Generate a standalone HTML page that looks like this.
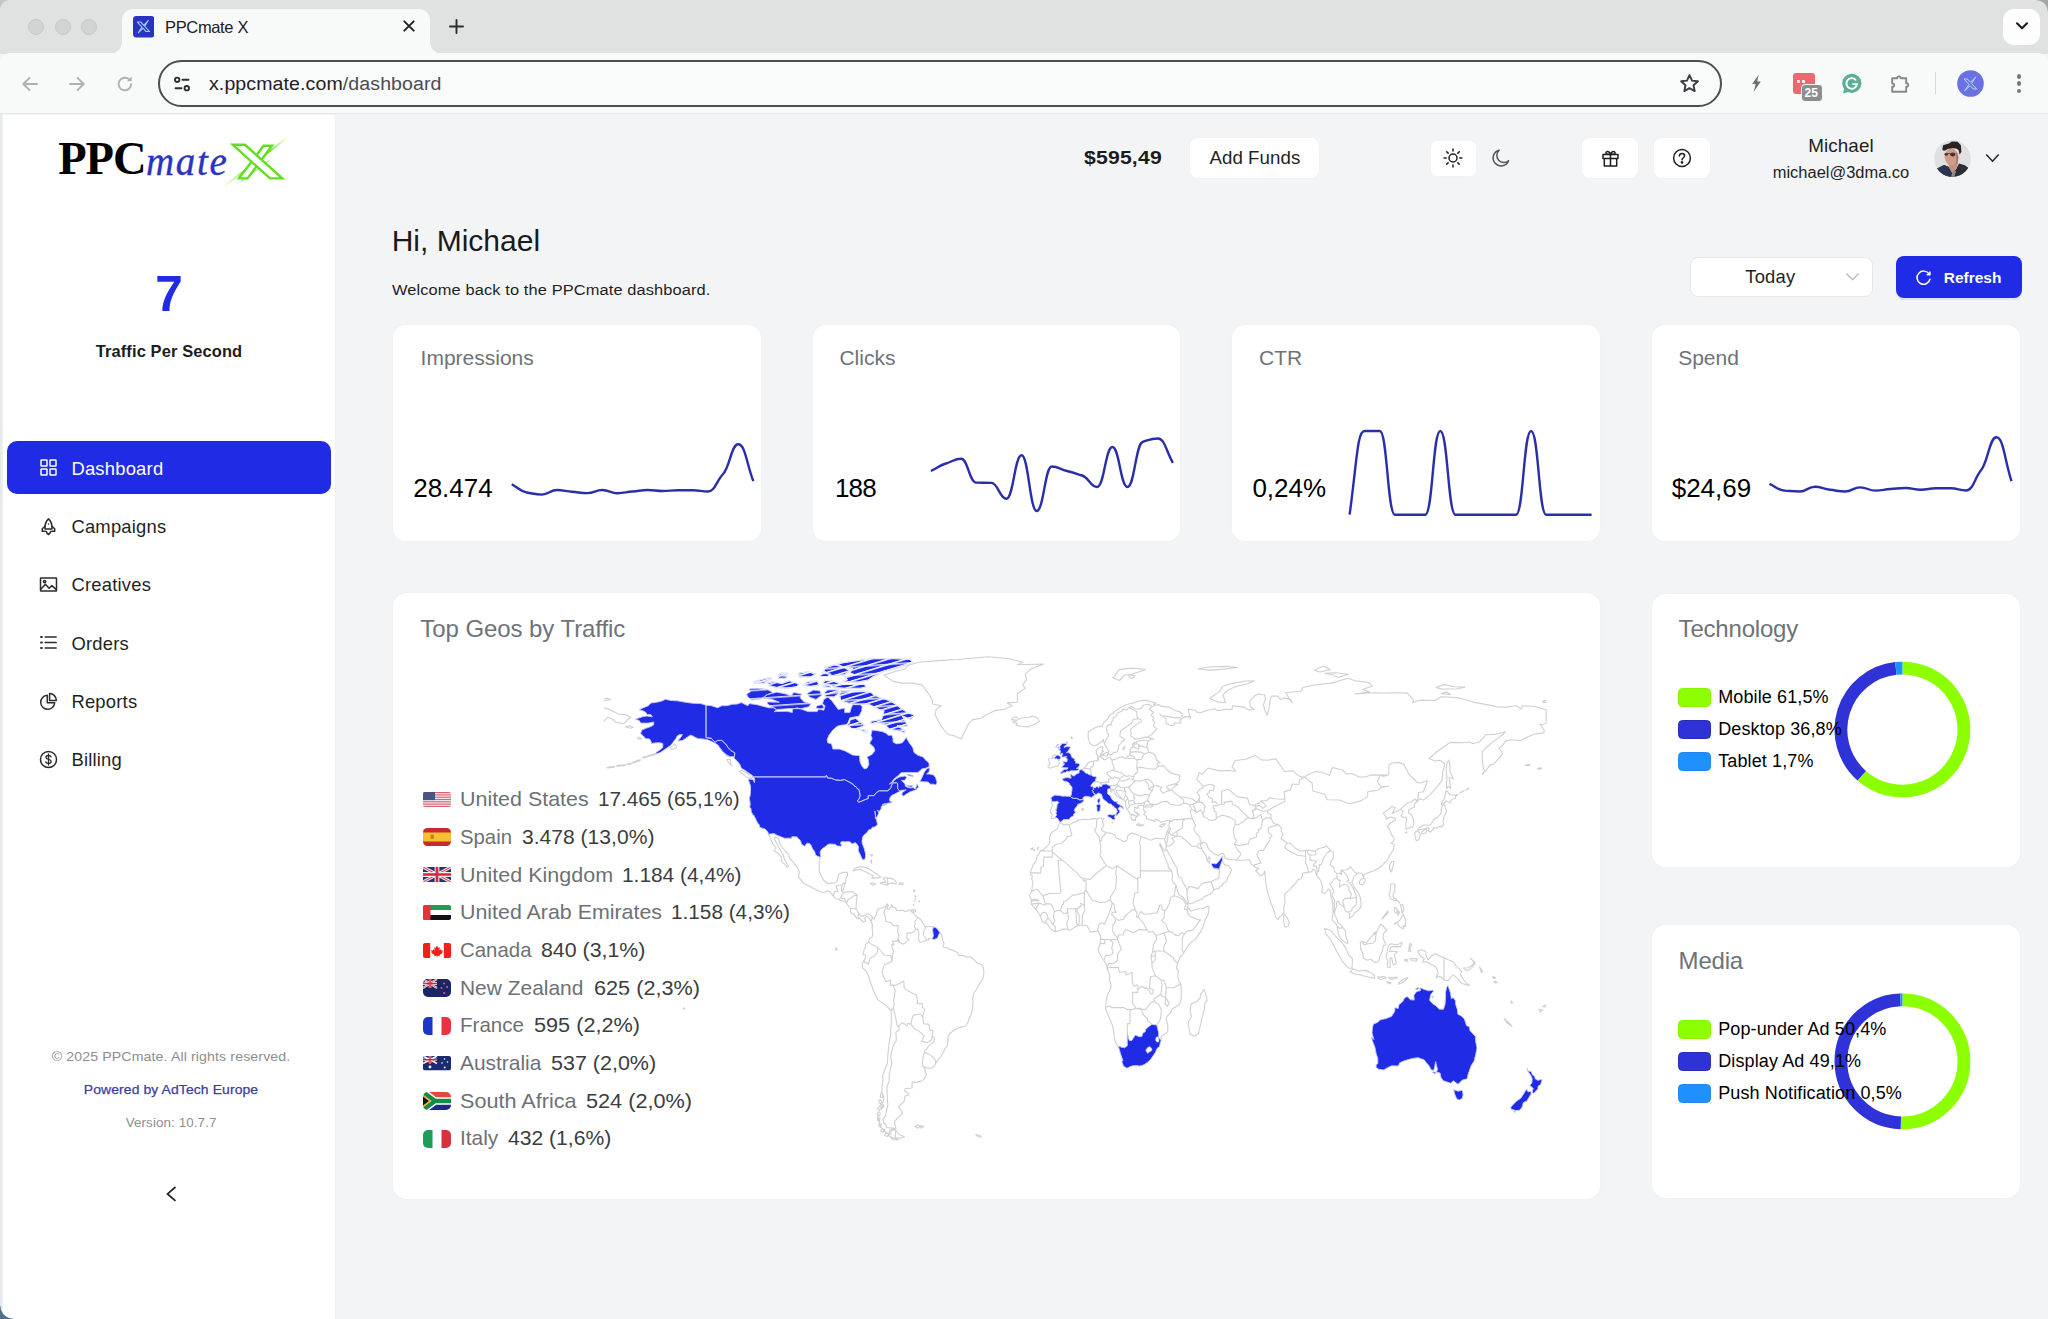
<!DOCTYPE html>
<html lang="en"><head><meta charset="utf-8"><title>PPCmate X</title>
<style>
*{box-sizing:border-box;margin:0;padding:0}
html,body{width:2048px;height:1319px;overflow:hidden;background:#f3f4f6;font-family:"Liberation Sans",sans-serif;color:#1f1f1f}
#win{position:relative;width:2048px;height:1319px;overflow:hidden;background:#f3f4f6}
.abs{position:absolute}
.t{position:absolute;white-space:pre;line-height:1}
/* chrome */
#tabstrip{position:absolute;left:0;top:0;width:2048px;height:54px;background:#e0e2e1}
#toolbar{position:absolute;left:0;top:53px;width:2048px;height:61px;background:#f8f9f9;border-bottom:1px solid #e6e7e8;border-radius:10px 10px 0 0}
#tab{position:absolute;left:122px;top:9px;width:308px;height:45px;background:#f8f9f9;border-radius:11px 11px 0 0}
#tab:before,#tab:after{content:"";position:absolute;bottom:0;width:12px;height:12px;background:radial-gradient(circle at 0 0,transparent 11.5px,#f8f9f9 12px)}
#tab:before{left:-12px}
#tab:after{right:-12px;background:radial-gradient(circle at 100% 0,transparent 11.5px,#f8f9f9 12px)}
.light{position:absolute;top:19px;width:16px;height:16px;border-radius:50%;background:#d2d3d3;border:1px solid #c6c7c7}
#urlbar{position:absolute;left:158px;top:60px;width:1564px;height:47px;border:2px solid #4b4e52;border-radius:24px;background:#f9fafa}
/* page */
#page{position:absolute;left:0;top:0;width:2048px;height:1319px}
#sidebar{position:absolute;left:3px;top:114.5px;width:332px;height:1205px;background:#fff;box-shadow:.5px 0 1.5px rgba(0,0,0,.035)}
#ledge{position:absolute;left:0;top:114px;width:3px;height:1205px;background:linear-gradient(90deg,#e4e5e6,#f1f2f3)}
.card{position:absolute;background:#fff;border-radius:13px;box-shadow:0 0 3px rgba(0,0,0,.03)}
.btn{position:absolute;background:#fff;border-radius:8px;box-shadow:0 0 2px rgba(0,0,0,.03)}
.ct{color:#6e7377}
.nav{font-size:18.4px;letter-spacing:.22px;color:#1f1f1f}
.gn{font-size:20.3px;color:#6d7174}
.gv{font-size:20.3px;color:#3b3d40}
.lg{font-size:18px;color:#000}

</style></head>
<body>
<div id="win">
<div id="tabstrip">
  <div class="light" style="left:28px"></div><div class="light" style="left:54.5px"></div><div class="light" style="left:81px"></div>
  <div id="tab"></div>
  <!-- favicon -->
  <svg class="abs" style="left:132.5px;top:16px" width="21.5" height="21.5" viewBox="0 0 22 22"><rect width="22" height="22" rx="3.5" fill="#2a32c4"/><path d="M4.5 6.2h3.6l2.9 3.4 4.6-5-3.6 5.9 4.9 5.4h-3.6l-3-3.5-4.9 4.9 3.8-6z" fill="none" stroke="#9fd0ff" stroke-width="1.1" stroke-linejoin="round"/></svg>
  <div class="t" style="left:165px;top:18.5px;font-size:16.5px;letter-spacing:-.35px;color:#1f2023">PPCmate X</div>
  <svg class="abs" style="left:403px;top:20px" width="12" height="12" viewBox="0 0 12 12"><path d="M1.3 1.3l9.4 9.4M10.7 1.3l-9.4 9.4" stroke="#1f2023" stroke-width="1.9" stroke-linecap="round"/></svg>
  <svg class="abs" style="left:449px;top:19px" width="15" height="15" viewBox="0 0 15 15"><path d="M7.5 1v13M1 7.5h13" stroke="#2a2b2e" stroke-width="1.9" stroke-linecap="round"/></svg>
  <div class="abs" style="left:2003px;top:8.5px;width:37px;height:36px;border-radius:11px;background:#fdfdfd"></div>
  <svg class="abs" style="left:2014.5px;top:21px" width="14" height="10" viewBox="0 0 14 10"><path d="M2 2.3l5 5 5-5" fill="none" stroke="#1c1c1e" stroke-width="2.1" stroke-linecap="round" stroke-linejoin="round"/></svg>
</div>
<div id="toolbar"></div>
<!-- nav arrows -->
<svg class="abs" style="left:20px;top:74px" width="20" height="20" viewBox="0 0 20 20"><path d="M17 10H3.5M9.5 3.8L3.3 10l6.2 6.2" fill="none" stroke="#aeb0b3" stroke-width="1.9" stroke-linecap="round" stroke-linejoin="round"/></svg>
<svg class="abs" style="left:66.5px;top:74px" width="20" height="20" viewBox="0 0 20 20"><path d="M3 10h13.5M10.5 3.8l6.2 6.2-6.2 6.2" fill="none" stroke="#aeb0b3" stroke-width="1.9" stroke-linecap="round" stroke-linejoin="round"/></svg>
<svg class="abs" style="left:115px;top:74px" width="20" height="20" viewBox="0 0 20 20"><path d="M16.2 10a6.3 6.3 0 1 1-2-4.6" fill="none" stroke="#aeb0b3" stroke-width="1.9" stroke-linecap="round"/><path d="M16.6 2.6v4.6h-4.6z" fill="#aeb0b3"/></svg>
<div id="urlbar"></div>
<!-- tune icon -->
<svg class="abs" style="left:172px;top:74px" width="20" height="20" viewBox="0 0 20 20" fill="none" stroke="#2b2d30" stroke-width="1.9" stroke-linecap="round"><circle cx="5.2" cy="5.8" r="2.2"/><path d="M10.5 5.8h6"/><circle cx="14.8" cy="14.2" r="2.2"/><path d="M3.5 14.2h6"/></svg>
<div class="t" style="left:208.5px;top:74.6px;font-size:18.8px;letter-spacing:.1px;color:#1f2023;transform:scaleX(1.04);transform-origin:0 50%">x.ppcmate.com<span style="color:#4a4c50">/dashboard</span></div>
<!-- star -->
<svg class="abs" style="left:1679px;top:73px" width="21" height="21" viewBox="0 0 21 21"><path d="M10.5 2.2l2.5 5.4 5.9.7-4.4 4 1.2 5.8-5.2-3-5.2 3 1.2-5.8-4.4-4 5.9-.7z" fill="none" stroke="#3c3e42" stroke-width="1.9" stroke-linejoin="round"/></svg>
<!-- lightning -->
<svg class="abs" style="left:1750px;top:74px" width="13" height="19" viewBox="0 0 13 19"><path d="M8.6 0.8L2.2 9.9h3.5L3.6 18l7.2-10.6H7.2z" fill="#6c6e71"/></svg>
<!-- calendar ext -->
<div class="abs" style="left:1793px;top:73px;width:21.5px;height:21px;border-radius:3px;background:#e86a70"></div>
<div class="abs" style="left:1797px;top:80px;width:3px;height:3px;background:#fbe3e4"></div><div class="abs" style="left:1802px;top:80px;width:3px;height:3px;background:#fbe3e4"></div>
<div class="abs" style="left:1801px;top:84px;width:21.5px;height:18px;border-radius:4px;background:#8c8d8e;border:1px solid #f8f9f9"></div>
<div class="t" style="left:1804.4px;top:87.2px;font-size:12px;font-weight:700;color:#fff;letter-spacing:.2px">25</div>
<!-- grammarly -->
<svg class="abs" style="left:1841px;top:73px" width="21" height="21" viewBox="0 0 21 21"><circle cx="10.8" cy="10.3" r="9.6" fill="#5cae94"/><path d="M2 20.5l1.5-6 4 4.5z" fill="#5cae94"/><path d="M14.6 6.8a5.3 5.3 0 1 0 1.4 4.3h-4" fill="none" stroke="#fff" stroke-width="1.9" stroke-linecap="round"/></svg>
<!-- puzzle -->
<svg class="abs" style="left:1889px;top:72px" width="23" height="23" viewBox="0 0 23 23"><path d="M3.2 6.3h5.2c-.6-2.6 3.8-2.6 3.2 0h5.6v5c2.8-.7 2.8 4 0 3.3v5.2H3.200v-5c2.600.6 2.600-3.800 0-3.200z" fill="none" stroke="#85878a" stroke-width="1.9" stroke-linejoin="round"/></svg>
<div class="abs" style="left:1934.5px;top:72px;width:1.5px;height:22px;background:#d5d6d8"></div>
<!-- profile -->
<svg class="abs" style="left:1957px;top:70px" width="27" height="27" viewBox="0 0 27 27"><circle cx="13.5" cy="13.5" r="13.3" fill="#6a72e2"/><path d="M7 9h3.400l3 3.300 5.400-5.500-4.200 6.600 5 5.600h-3.400l-3-3.400-5.600 5.300 4.400-6.500z" fill="none" stroke="#b9d8ff" stroke-width="1" stroke-linejoin="round"/></svg>
<div class="abs" style="left:2016.5px;top:74.2px;width:4.4px;height:4.4px;border-radius:50%;background:#77797c"></div>
<div class="abs" style="left:2016.5px;top:81.4px;width:4.4px;height:4.4px;border-radius:50%;background:#77797c"></div>
<div class="abs" style="left:2016.5px;top:88.7px;width:4.4px;height:4.4px;border-radius:50%;background:#77797c"></div>

<div class="abs" style="right:0;top:0;width:11px;height:11px;background:radial-gradient(circle at 0 100%,transparent 10px,#a3a4a4 11px)"></div>
<div class="abs" style="left:0;top:0;width:10px;height:10px;background:radial-gradient(circle at 100% 100%,transparent 9.5px,#c4c5c5 10.5px)"></div>
<div id="ledge"></div>

<div id="page">
<div id="sidebar"></div>
<div class="t" style="left:58.3px;top:135.66px;font-size:46.5px;font-family:'Liberation Serif',serif;font-weight:700;color:#000;letter-spacing:-1.1px">PPC</div>
<div class="t" style="left:146.0px;top:141.74px;font-size:39px;font-family:'Liberation Serif',serif;font-style:italic;color:#2a33c2;letter-spacing:1.7px;-webkit-text-stroke:.35px #2a33c2">mate</div>
<svg class="abs" style="left:222px;top:134px" width="72" height="56" viewBox="0 0 72 56">
<defs><linearGradient id="gx" x1="0" y1="1" x2="1" y2="0"><stop offset="0" stop-color="#d9f58c" stop-opacity=".2"/><stop offset=".35" stop-color="#5fe01a"/><stop offset=".7" stop-color="#5fe01a"/><stop offset="1" stop-color="#d9f58c" stop-opacity=".2"/></linearGradient></defs>
<path d="M2.600 52 L66 3" stroke="url(#gx)" stroke-width="2" fill="none"/>
<path d="M19 47.500 L47 26.500" stroke="#8ae84a" stroke-width="1.500" fill="none" opacity=".75"/>
<path d="M41.500 11.800h8.500L25.500 44.400h-8.500z" fill="#fff" stroke="#5fe01f" stroke-width="2.400" stroke-linejoin="miter"/>
<path d="M10.800 10.800h12.200L60.200 44.400H48z" fill="#fff" stroke="#5fe01f" stroke-width="2.400" stroke-linejoin="miter"/>
</svg>
<div class="t " style="left:-131.0px;width:600px;text-align:center;top:269.10px;font-size:49.5px;font-weight:700;color:#1f2be5">7</div>
<div class="t " style="left:-130.8px;width:600px;text-align:center;top:344.41px;font-size:15.7px;font-weight:700;letter-spacing:.1px;color:#1c1c1c;transform:scaleX(1.0500);transform-origin:50% 50%">Traffic Per Second</div>
<div class="abs" style="left:7px;top:441px;width:324px;height:53px;border-radius:10px;background:#1f2be5"></div>
<div class="t nav" style="left:71.4px;top:459.62px;font-size:18.4px;color:#fff">Dashboard</div>
<div class="t nav" style="left:71.4px;top:517.92px;font-size:18.4px;color:#1f1f1f">Campaigns</div>
<div class="t nav" style="left:71.4px;top:576.22px;font-size:18.4px;color:#1f1f1f">Creatives</div>
<div class="t nav" style="left:71.4px;top:634.52px;font-size:18.4px;color:#1f1f1f">Orders</div>
<div class="t nav" style="left:71.4px;top:692.82px;font-size:18.4px;color:#1f1f1f">Reports</div>
<div class="t nav" style="left:71.4px;top:751.12px;font-size:18.4px;color:#1f1f1f">Billing</div>
<svg class="abs" style="left:38.9px;top:458.4px" width="19" height="19" viewBox="0 0 19 19" fill="none" stroke="#fff" stroke-width="1.5" stroke-linejoin="round" stroke-linecap="round"><rect x="2" y="2" width="6" height="6" rx=".6"/><rect x="11" y="2" width="6" height="6" rx=".6"/><rect x="2" y="11" width="6" height="6" rx=".6"/><rect x="11" y="11" width="6" height="6" rx=".6"/></svg>
<svg class="abs" style="left:38.9px;top:516.7px" width="19" height="19" viewBox="0 0 19 19" fill="none" stroke="#2b2b2b" stroke-width="1.5" stroke-linejoin="round" stroke-linecap="round"><path d="M9.500 1.800c2.700 2.200 3.700 5.400 3.500 10.200h-7c-.2-4.800.8-8 3.500-10.200z"/><path d="M6 9.200l-2.700 2.600v2.400h2.900M13 9.200l2.700 2.600v2.400h-2.900"/><path d="M7.300 14.500c.4 1.600 1.200 2.400 2.200 3 1-.6 1.800-1.400 2.200-3"/><circle cx="9.500" cy="7" r=".8" fill="#2b2b2b" stroke="none"/></svg>
<svg class="abs" style="left:38.9px;top:575.0px" width="19" height="19" viewBox="0 0 19 19" fill="none" stroke="#2b2b2b" stroke-width="1.5" stroke-linejoin="round" stroke-linecap="round"><rect x="1.500" y="3" width="16" height="13" rx=".5"/><path d="M1.800 14.300l4.600-5 3.700 4 2.800-2.700 4.400 4"/><circle cx="5.600" cy="6.600" r="1.100"/></svg>
<svg class="abs" style="left:38.9px;top:633.3px" width="19" height="19" viewBox="0 0 19 19" fill="none" stroke="#2b2b2b" stroke-width="1.5" stroke-linejoin="round" stroke-linecap="round"><path d="M6.200 4h11M6.200 9.500h11M6.200 15h11"/><path d="M2 4h.9M2 9.500h.9M2 15h.9" stroke-width="1.900"/></svg>
<svg class="abs" style="left:38.9px;top:691.6px" width="19" height="19" viewBox="0 0 19 19" fill="none" stroke="#2b2b2b" stroke-width="1.5" stroke-linejoin="round" stroke-linecap="round"><path d="M8.300 3.300a7 7 0 1 0 7.400 7.400h-7.400z"/><path d="M10.600 1.600v6.800h6.800a6.900 6.900 0 0 0-6.800-6.800z"/></svg>
<svg class="abs" style="left:38.9px;top:749.9px" width="19" height="19" viewBox="0 0 19 19" fill="none" stroke="#2b2b2b" stroke-width="1.5" stroke-linejoin="round" stroke-linecap="round"><circle cx="9.500" cy="9.500" r="8"/><path d="M12 6.900c-.4-1-1.300-1.400-2.500-1.400-1.500 0-2.500.7-2.500 1.900 0 2.800 5.200 1.200 5.200 4.100 0 1.200-1.100 2-2.700 2-1.400 0-2.400-.6-2.800-1.700M9.500 4v11" stroke-width="1.300"/></svg>
<div class="t " style="left:-129.2px;width:600px;text-align:center;top:1050.36px;font-size:13.4px;color:#8e8e8e;letter-spacing:.1px;transform:scaleX(1.0580);transform-origin:50% 50%">© 2025 PPCmate. All rights reserved.</div>
<div class="t " style="left:-128.8px;width:600px;text-align:center;top:1082.96px;font-size:13.4px;color:#3a3e9e;letter-spacing:.1px;-webkit-text-stroke:.25px #3a3e9e;transform:scaleX(1.0400);transform-origin:50% 50%">Powered by AdTech Europe</div>
<div class="t " style="left:-128.9px;width:600px;text-align:center;top:1116.06px;font-size:13.4px;color:#8e8e8e;letter-spacing:.1px">Version: 10.7.7</div>
<svg class="abs" style="left:164px;top:1185px" width="14" height="18" viewBox="0 0 14 18"><path d="M11.500 2L3.500 8.900l8 6.900" fill="none" stroke="#222" stroke-width="1.700" stroke-linecap="butt"/></svg>
<div class="abs" style="left:0;top:1306px;width:13px;height:13px;background:radial-gradient(circle at 100% 0,transparent 12px,#4f7087 13px)"></div>
<div class="t" style="left:1083.9px;top:148.87px;font-size:18.7px;font-weight:700;letter-spacing:.15px;color:#1c1c1c;transform:scaleX(1.1350);transform-origin:0 50%">$595,49</div>
<div class="btn" style="left:1190px;top:138px;width:129px;height:40px"></div>
<div class="t" style="left:1209.4px;top:148.87px;font-size:18.7px;letter-spacing:.07px;color:#1f1f1f">Add Funds</div>
<div class="btn" style="left:1430.500px;top:140.500px;width:45.500px;height:35px;border-radius:6px"></div>
<svg class="abs" style="left:1443px;top:147.800px" width="20" height="20" viewBox="0 0 20 20" fill="none" stroke="#1f1f1f" stroke-width="1.500" stroke-linecap="round"><circle cx="10" cy="10" r="4"/><path d="M16.90 10.00L18.90 10.00"/><path d="M14.88 14.88L16.29 16.29"/><path d="M10.00 16.90L10.00 18.90"/><path d="M5.12 14.88L3.71 16.29"/><path d="M3.10 10.00L1.10 10.00"/><path d="M5.12 5.12L3.71 3.71"/><path d="M10.00 3.10L10.00 1.10"/><path d="M14.88 5.12L16.29 3.71"/></svg>
<svg class="abs" style="left:1491px;top:148px" width="20" height="20" viewBox="0 0 20 20"><path d="M8.200 2.200a8 8 0 1 0 9.400 10.600a6.800 6.800 0 0 1-9.400-10.600z" fill="none" stroke="#555" stroke-width="1.500" stroke-linejoin="round"/></svg>
<div class="btn" style="left:1582px;top:138px;width:56px;height:40px"></div>
<svg class="abs" style="left:1600.500px;top:148.500px" width="19" height="19" viewBox="0 0 19 19" fill="none" stroke="#1f1f1f" stroke-width="1.500" stroke-linejoin="round"><rect x="2" y="5.600" width="15" height="4"/><path d="M3.300 9.600v7.400h12.400V9.600M9.500 5.600v11.400"/><path d="M9.500 5.400c-1-3.400-4.600-3.600-4.600-1.400 0 1.400 2.400 1.400 4.600 1.400zM9.500 5.400c1-3.400 4.600-3.600 4.600-1.400 0 1.400-2.400 1.400-4.600 1.400z"/></svg>
<div class="btn" style="left:1653.500px;top:138px;width:56.500px;height:40px"></div>
<svg class="abs" style="left:1671.500px;top:148.100px" width="20" height="20" viewBox="0 0 20 20" fill="none" stroke="#1f1f1f" stroke-width="1.500" stroke-linecap="round"><circle cx="10" cy="10" r="8.400"/><path d="M7.400 7.900c0-1.500 1.200-2.500 2.600-2.500s2.600 1 2.600 2.400c0 1.900-2.600 2-2.600 3.900"/><circle cx="10" cy="14.400" r=".6" fill="#1f1f1f"/></svg>
<div class="t " style="left:1540.8px;width:600px;text-align:center;top:137.93px;font-size:17.8px;letter-spacing:.1px;color:#1f1f1f;transform:scaleX(1.0600);transform-origin:50% 50%">Michael</div>
<div class="t " style="left:1540.8px;width:600px;text-align:center;top:164.96px;font-size:16px;letter-spacing:.0px;color:#1f1f1f;transform:scaleX(1.0280);transform-origin:50% 50%">michael@3dma.co</div>
<svg class="abs" style="left:1933.500px;top:139.600px" width="37" height="37" viewBox="0 0 37 37"><defs><clipPath id="av"><circle cx="18.500" cy="18.500" r="18.300"/></clipPath></defs>
<g clip-path="url(#av)"><rect width="37" height="37" fill="#dfe0df"/>
<path d="M3.200 28.600L10.100 24.900 14.900 27.100 18.100 33 22.100 28.900 25 23.500 30.900 25.300 35.500 28.800 34 37H5z" fill="#2b2d33"/>
<path d="M3.200 28.600L10.100 24.900 14.900 27.100 18.100 33 17 37H5z" fill="#2b3352"/>
<path d="M14.500 22.500h9.500l-1.500 6-4.400 4.600-3.300-6z" fill="#c98f7f"/>
<path d="M18.100 33l2.500-3 1.500 1.500-2 5.500h-3z" fill="#8d8a90"/>
<ellipse cx="17.600" cy="17" rx="6.900" ry="8.600" fill="#cf9b8c" transform="rotate(-8 17.600 17)"/>
<path d="M22 12c2 2 3 6 1.500 11l-2 3c1-4 1-9 .5-14z" fill="#a8706a"/>
<path d="M8.300 9.600L9.100 5.300 14.900 3.500 17.800 1.500 23.600 1.700 26.900 5.300 27.400 11.900 25.600 14.500 24.500 10 22 8.400 18.500 8.200 13.400 8.900 11.600 10.600 9.100 10.600z" fill="#2a2320"/>
<ellipse cx="18.700" cy="14.500" rx="2.500" ry="1.900" fill="#4a2a14"/><ellipse cx="12.300" cy="14.200" rx="1.700" ry="1.500" fill="#4a3a38"/>
<path d="M10.800 13.500h10.500" stroke="#5a4038" stroke-width=".8"/>
</g></svg>
<svg class="abs" style="left:1985px;top:151.500px" width="15" height="12" viewBox="0 0 15 12"><path d="M1.300 2.600l6.200 6.600 6.200-6.600" fill="none" stroke="#222" stroke-width="1.500"/></svg>
<div class="t" style="left:391.7px;top:226.20px;font-size:30px;color:#1a1a1a;letter-spacing:0">Hi, Michael</div>
<div class="t" style="left:392.4px;top:281.88px;font-size:15.5px;letter-spacing:.1px;color:#1f1f1f;transform:scaleX(1.0590);transform-origin:0 50%">Welcome back to the PPCmate dashboard.</div>
<div class="abs" style="left:1690px;top:257px;width:183px;height:40px;border-radius:8px;background:#fff;border:1px solid #e6e7e9"></div>
<div class="t" style="left:1745.3px;top:268.32px;font-size:18.4px;letter-spacing:.18px;color:#1f1f1f">Today</div>
<svg class="abs" style="left:1845px;top:271px" width="15" height="12" viewBox="0 0 15 12"><path d="M1.300 2.400l6.200 6.400 6.200-6.400" fill="none" stroke="#bdbdbd" stroke-width="1.400"/></svg>
<div class="abs" style="left:1896px;top:256px;width:126px;height:42px;border-radius:8px;background:#1f2be5;box-shadow:0 2px 0 rgba(31,43,229,.08)"></div>
<svg class="abs" style="left:1915.300px;top:269px" width="17" height="17" viewBox="0 0 17 17"><path d="M14.200 5.200A6.600 6.600 0 1 0 15 10.300" fill="none" stroke="#fff" stroke-width="1.500" stroke-linecap="round"/><path d="M14.900 2.900v2.800h-2.800" fill="none" stroke="#fff" stroke-width="1.500" stroke-linecap="round" stroke-linejoin="round"/></svg>
<div class="t" style="left:1943.7px;top:270.28px;font-size:15.5px;font-weight:700;color:#fff">Refresh</div>
<div class="card" style="left:393.0px;top:325px;width:367.500px;height:216px"></div>
<div class="t ct" style="left:420.6px;top:347.22px;font-size:21px;">Impressions</div>
<div class="t" style="left:413.2px;top:474.99px;font-size:26px;color:#000;letter-spacing:0">28.474</div>
<div class="card" style="left:812.7px;top:325px;width:367.500px;height:216px"></div>
<div class="t ct" style="left:839.4px;top:347.22px;font-size:21px;">Clicks</div>
<div class="t" style="left:834.9px;top:474.99px;font-size:26px;color:#000;letter-spacing:-.8px">188</div>
<div class="card" style="left:1232.3px;top:325px;width:367.500px;height:216px"></div>
<div class="t ct" style="left:1259.0px;top:347.22px;font-size:21px;">CTR</div>
<div class="t" style="left:1252.4px;top:474.99px;font-size:26px;color:#000;letter-spacing:0">0,24%</div>
<div class="card" style="left:1652.0px;top:325px;width:367.500px;height:216px"></div>
<div class="t ct" style="left:1678.2px;top:347.22px;font-size:21px;">Spend</div>
<div class="t" style="left:1671.7px;top:474.99px;font-size:26px;color:#000;letter-spacing:0">$24,69</div>
<svg class="abs" style="left:0;top:0" width="2048" height="1319" viewBox="0 0 2048 1319" fill="none" stroke="#2a2ea8" stroke-width="2.4" stroke-linecap="butt" stroke-linejoin="round"><path d="M511.7,484.3C518.6,487.8 519.9,491.4 526.8,492.5C533.7,493.6 535.0,494.6 541.9,494.6C548.8,494.6 550.1,490.0 557.0,490.0C563.9,490.0 565.2,491.3 572.1,491.8C579.0,492.3 580.3,493.1 587.2,493.1C594.1,493.1 595.4,490.0 602.3,490.0C609.2,490.0 610.5,493.2 617.4,493.2C624.3,493.2 625.6,492.0 632.5,491.5C639.4,491.0 640.7,490.0 647.6,490.0C654.5,490.0 655.8,491.0 662.7,491.0C669.6,491.0 670.9,490.4 677.8,490.3C684.7,490.2 686.0,490.2 692.9,490.2C699.8,490.2 701.1,491.5 708.0,491.5C714.9,491.5 716.2,481.3 723.1,474.0C730.0,466.7 731.3,444.3 738.2,444.3C745.1,444.3 746.4,462.8 753.3,481.2"/><path d="M930.8,471.0C937.8,468.2 939.0,465.4 945.9,463.5C952.9,461.6 954.1,458.8 961.1,458.8C968.0,458.8 969.2,482.4 976.2,482.6C983.1,482.8 984.4,482.7 991.3,482.9C998.3,483.1 999.5,498.7 1006.4,498.7C1013.4,498.7 1014.6,455.2 1021.6,455.2C1028.5,455.2 1029.8,511.0 1036.7,511.0C1043.7,511.0 1044.9,466.5 1051.8,466.5C1058.8,466.5 1060.0,469.5 1067.0,471.0C1073.9,472.5 1075.1,473.3 1082.1,475.5C1089.1,477.7 1090.3,487.0 1097.2,487.0C1104.2,487.0 1105.4,447.0 1112.4,447.0C1119.3,447.0 1120.5,487.0 1127.5,487.0C1134.4,487.0 1135.7,444.2 1142.6,442.0C1149.6,439.8 1150.8,438.5 1157.8,438.5C1164.7,438.5 1165.9,450.6 1172.9,462.8"/><path d="M1349.6,514.7C1357.2,458.9 1357.2,431.0 1364.7,431.0C1372.3,431.0 1372.3,431.0 1379.8,431.0C1387.4,431.0 1387.4,514.7 1395.0,514.7C1402.5,514.7 1402.5,514.7 1410.1,514.7C1417.7,514.7 1417.7,514.7 1425.2,514.7C1432.8,514.7 1432.8,431.0 1440.3,431.0C1447.9,431.0 1447.9,514.7 1455.5,514.7C1463.0,514.7 1463.0,514.7 1470.6,514.7C1478.2,514.7 1478.2,514.7 1485.7,514.7C1493.3,514.7 1493.3,514.7 1500.8,514.7C1508.4,514.7 1508.4,514.7 1516.0,514.7C1523.5,514.7 1523.5,431.0 1531.1,431.0C1538.7,431.0 1538.7,514.7 1546.2,514.7C1553.8,514.7 1553.8,514.7 1561.3,514.7C1568.9,514.7 1568.9,514.7 1576.5,514.7C1584.0,514.7 1584.0,514.7 1591.6,514.7"/><path d="M1769.5,483.9C1776.5,487.0 1777.7,490.1 1784.6,490.6C1791.6,491.1 1792.8,491.5 1799.8,491.5C1806.7,491.5 1807.9,486.8 1814.9,486.8C1821.8,486.8 1823.0,489.1 1830.0,489.8C1837.0,490.5 1838.2,491.5 1845.1,491.5C1852.1,491.5 1853.3,487.4 1860.2,487.4C1867.2,487.4 1868.4,490.6 1875.4,490.6C1882.3,490.6 1883.5,489.4 1890.5,489.0C1897.5,488.6 1898.7,488.0 1905.6,488.0C1912.6,488.0 1913.8,489.7 1920.8,489.7C1927.7,489.7 1928.9,488.2 1935.9,488.2C1942.8,488.2 1944.0,488.2 1951.0,488.3C1958.0,488.4 1959.2,490.5 1966.1,490.5C1973.1,490.5 1974.3,478.4 1981.2,470.0C1988.2,461.6 1989.4,437.2 1996.4,437.2C2003.3,437.2 2004.5,459.2 2011.5,481.2"/></svg>
<div class="card" style="left:392.500px;top:593px;width:1207.500px;height:605.500px;border-radius:14px"></div>
<div class="t ct" style="left:420.3px;top:617.18px;font-size:24px;letter-spacing:-.07px">Top Geos by Traffic</div>
<svg class="abs" style="left:423.3px;top:791.8px" width="28" height="15" viewBox="0 0 28 15"><defs><clipPath id="fcus"><rect width="28" height="15" rx="2"/></clipPath></defs><g clip-path="url(#fcus)"><rect width="28" height="15" fill="#f4eef0"/><rect y="0.00" width="28" height="1.15" fill="#d9636e"/><rect y="2.31" width="28" height="1.15" fill="#d9636e"/><rect y="4.62" width="28" height="1.15" fill="#d9636e"/><rect y="6.92" width="28" height="1.15" fill="#d9636e"/><rect y="9.23" width="28" height="1.15" fill="#d9636e"/><rect y="11.54" width="28" height="1.15" fill="#d9636e"/><rect y="13.85" width="28" height="1.15" fill="#d9636e"/><rect width="12" height="8.100" fill="#4a5483"/></g></svg>
<div class="t gn" style="left:460.0px;top:789.12px;font-size:20.3px;;transform:scaleX(1.0569);transform-origin:0 50%">United States</div>
<div class="t gv" style="left:597.5px;top:789.12px;font-size:20.3px;;transform:scaleX(1.0210);transform-origin:0 50%">17.465 (65,1%)</div>
<svg class="abs" style="left:423.3px;top:828.0px" width="28" height="18" viewBox="0 0 28 18"><defs><clipPath id="fces"><rect width="28" height="18" rx="4.5"/></clipPath></defs><g clip-path="url(#fces)"><rect width="28" height="18" fill="#c9282d"/><rect y="4.500" width="28" height="9" fill="#f6c02f"/><rect x="7.500" y="6.800" width="3.400" height="4.200" rx="1" fill="#c47a2c"/></g></svg>
<div class="t gn" style="left:460.0px;top:826.82px;font-size:20.3px;;transform:scaleX(1.0023);transform-origin:0 50%">Spain</div>
<div class="t gv" style="left:521.7px;top:826.82px;font-size:20.3px;;transform:scaleX(1.0392);transform-origin:0 50%">3.478 (13,0%)</div>
<svg class="abs" style="left:423.3px;top:867.2px" width="28" height="15" viewBox="0 0 28 15"><defs><clipPath id="fcgb"><rect width="28" height="15" rx="2"/></clipPath></defs><g clip-path="url(#fcgb)"><rect width="28" height="15" fill="#2b3170"/><path d="M0 0l28 15M28 0L0 15" stroke="#f0eef2" stroke-width="3.200"/><path d="M0 0l28 15M28 0L0 15" stroke="#d23b4c" stroke-width="1.100"/><path d="M14 0v15M0 7.500h28" stroke="#f0eef2" stroke-width="4.800"/><path d="M14 0v15M0 7.500h28" stroke="#d5283d" stroke-width="2.700"/></g></svg>
<div class="t gn" style="left:460.0px;top:864.52px;font-size:20.3px;;transform:scaleX(1.0609);transform-origin:0 50%">United Kingdom</div>
<div class="t gv" style="left:621.9px;top:864.52px;font-size:20.3px;;transform:scaleX(1.0291);transform-origin:0 50%">1.184 (4,4%)</div>
<svg class="abs" style="left:423.3px;top:904.9px" width="28" height="15" viewBox="0 0 28 15"><defs><clipPath id="fcae"><rect width="28" height="15" rx="2"/></clipPath></defs><g clip-path="url(#fcae)"><rect width="28" height="5" fill="#1f9a58"/><rect y="5" width="28" height="5" fill="#fff"/><rect y="10" width="28" height="5" fill="#111"/><rect width="7.500" height="15" fill="#e4323c"/></g></svg>
<div class="t gn" style="left:460.0px;top:902.22px;font-size:20.3px;;transform:scaleX(1.0541);transform-origin:0 50%">United Arab Emirates</div>
<div class="t gv" style="left:671.1px;top:902.22px;font-size:20.3px;;transform:scaleX(1.0231);transform-origin:0 50%">1.158 (4,3%)</div>
<svg class="abs" style="left:423.3px;top:942.6px" width="28" height="15" viewBox="0 0 28 15"><defs><clipPath id="fcca"><rect width="28" height="15" rx="2"/></clipPath></defs><g clip-path="url(#fcca)"><rect width="28" height="15" fill="#fff"/><rect width="7.200" height="15" fill="#f0211d"/><rect x="20.800" width="7.200" height="15" fill="#f0211d"/><path d="M14 2.500l1.200 2.300 1.600-.6-.5 3 1.700-1 .3 1.300 1.700-.3-.8 2 .7.600-3.400 2.200.3 1.200-2.500-.4v1.700h-.6v-1.700l-2.500.4.300-1.200-3.400-2.200.700-.6-.8-2 1.700.300.300-1.300 1.700 1-.5-3 1.600.6z" fill="#f0211d"/></g></svg>
<div class="t gn" style="left:460.0px;top:939.92px;font-size:20.3px;;transform:scaleX(1.0063);transform-origin:0 50%">Canada</div>
<div class="t gv" style="left:540.9px;top:939.92px;font-size:20.3px;;transform:scaleX(1.0522);transform-origin:0 50%">840 (3,1%)</div>
<svg class="abs" style="left:423.3px;top:978.8px" width="28" height="18" viewBox="0 0 28 18"><defs><clipPath id="fcnz"><rect width="28" height="18" rx="5"/></clipPath></defs><g clip-path="url(#fcnz)"><rect width="28" height="18" fill="#1a2568"/><g transform="scale(.5 .6)"><rect width="28" height="15" fill="#1a2568"/><path d="M0 0l28 15M28 0L0 15" stroke="#f0eef2" stroke-width="3.400"/><path d="M14 0v15M0 7.500h28" stroke="#f0eef2" stroke-width="5"/><path d="M14 0v15M0 7.500h28" stroke="#d5283d" stroke-width="2.800"/><path d="M0 0l28 15M28 0L0 15" stroke="#d5283d" stroke-width="1.100"/></g><circle cx="21" cy="4.500" r="1" fill="#e85a6a"/><circle cx="24" cy="8" r="1" fill="#e85a6a"/><circle cx="18.500" cy="9" r="1" fill="#e85a6a"/><circle cx="21.200" cy="14" r="1.100" fill="#e85a6a"/></g></svg>
<div class="t gn" style="left:460.0px;top:977.62px;font-size:20.3px;;transform:scaleX(1.0326);transform-origin:0 50%">New Zealand</div>
<div class="t gv" style="left:593.6px;top:977.62px;font-size:20.3px;;transform:scaleX(1.0683);transform-origin:0 50%">625 (2,3%)</div>
<svg class="abs" style="left:423.3px;top:1016.5px" width="28" height="18" viewBox="0 0 28 18"><defs><clipPath id="fcfr"><rect width="28" height="18" rx="5"/></clipPath></defs><g clip-path="url(#fcfr)"><rect width="28" height="18" fill="#fff"/><rect width="9.500" height="18" fill="#1a36c4"/><rect x="18.500" width="9.500" height="18" fill="#ea3342"/></g></svg>
<div class="t gn" style="left:460.0px;top:1015.32px;font-size:20.3px;;transform:scaleX(1.0124);transform-origin:0 50%">France</div>
<div class="t gv" style="left:534.0px;top:1015.32px;font-size:20.3px;;transform:scaleX(1.0693);transform-origin:0 50%">595 (2,2%)</div>
<svg class="abs" style="left:423.3px;top:1056.0px" width="28" height="14.5" viewBox="0 0 28 14.5"><defs><clipPath id="fcau"><rect width="28" height="14.5" rx="2"/></clipPath></defs><g clip-path="url(#fcau)"><rect width="28" height="14.500" fill="#1c2a72"/><g transform="scale(.5 .5)"><path d="M0 0l28 15M28 0L0 15" stroke="#f0eef2" stroke-width="3.400"/><path d="M14 0v15M0 7.500h28" stroke="#f0eef2" stroke-width="5"/><path d="M14 0v15M0 7.500h28" stroke="#d5283d" stroke-width="2.800"/></g><circle cx="7" cy="11" r="1.400" fill="#fff"/><circle cx="21.500" cy="3" r=".8" fill="#fff"/><circle cx="24.500" cy="6" r=".8" fill="#fff"/><circle cx="19" cy="7" r=".8" fill="#fff"/><circle cx="21.700" cy="11.500" r=".9" fill="#fff"/></g></svg>
<div class="t gn" style="left:460.0px;top:1053.02px;font-size:20.3px;;transform:scaleX(1.0302);transform-origin:0 50%">Australia</div>
<div class="t gv" style="left:551.0px;top:1053.02px;font-size:20.3px;;transform:scaleX(1.0593);transform-origin:0 50%">537 (2,0%)</div>
<svg class="abs" style="left:423.3px;top:1091.9px" width="28" height="18" viewBox="0 0 28 18"><defs><clipPath id="fcza"><rect width="28" height="18" rx="5"/></clipPath></defs><g clip-path="url(#fcza)"><rect width="28" height="9" fill="#e2483d"/><rect y="9" width="28" height="9" fill="#1b2a8a"/><path d="M0 0l12 9L0 18M12 9h16" fill="none" stroke="#fff" stroke-width="7.400"/><path d="M0 0l12 9L0 18M12 9h16" fill="none" stroke="#178a4a" stroke-width="4.400"/><path d="M0 2.800L8.300 9 0 15.200z" fill="#f2b52b"/><path d="M0 4.600L5.900 9 0 13.400z" fill="#111"/></g></svg>
<div class="t gn" style="left:460.0px;top:1090.72px;font-size:20.3px;;transform:scaleX(1.0662);transform-origin:0 50%">South Africa</div>
<div class="t gv" style="left:586.2px;top:1090.72px;font-size:20.3px;;transform:scaleX(1.0683);transform-origin:0 50%">524 (2,0%)</div>
<svg class="abs" style="left:423.3px;top:1129.6px" width="28" height="18" viewBox="0 0 28 18"><defs><clipPath id="fcit"><rect width="28" height="18" rx="5"/></clipPath></defs><g clip-path="url(#fcit)"><rect width="28" height="18" fill="#fff"/><rect width="9.500" height="18" fill="#1e9c59"/><rect x="18.500" width="9.500" height="18" fill="#d8303c"/></g></svg>
<div class="t gn" style="left:460.0px;top:1128.42px;font-size:20.3px;;transform:scaleX(1.0296);transform-origin:0 50%">Italy</div>
<div class="t gv" style="left:508.0px;top:1128.42px;font-size:20.3px;;transform:scaleX(1.0401);transform-origin:0 50%">432 (1,6%)</div>
<svg class="abs" style="left:0;top:0" width="2048" height="1319" viewBox="0 0 2048 1319"><path d="M641.9,757.8L643.7,756.9L646.6,756.7L644.8,757.9ZM636.1,760.9L638.0,760.0L640.8,759.9L639.0,761.1ZM632.2,762.6L634.0,761.8L636.9,761.6L635.1,762.8ZM627.0,764.4L628.8,763.5L631.7,763.3L629.8,764.5ZM621.2,765.8L623.0,764.9L625.9,764.7L624.1,765.9ZM616.5,766.1L618.3,765.2L621.2,765.1L619.4,766.3ZM610.2,767.3L612.1,766.5L614.9,766.3L613.1,767.5ZM606.8,767.8L608.7,767.0L611.5,766.8L609.7,768.0ZM1525.4,765.5L1527.2,764.6L1530.1,764.5L1528.3,765.7ZM1537.2,769.0L1539.0,768.1L1541.9,768.0L1540.0,769.2ZM961.2,739.0L954.6,735.9L948.1,734.5L944.1,730.0L940.2,724.8L937.6,719.6L935.0,714.4L936.3,709.2L941.5,705.7L932.4,704.0L932.4,700.5L929.8,695.3L925.8,690.1L921.9,684.9L912.7,683.1L902.3,683.1L893.1,681.4L887.9,677.9L884.0,675.1L897.0,671.0L904.9,669.2L907.5,665.8L918.0,662.3L938.9,660.6L957.2,659.5L988.6,656.7L1009.6,658.8L1022.7,662.3L1017.4,664.7L1043.6,664.0L1030.5,669.2L1025.3,674.4L1026.6,679.7L1022.7,684.9L1025.3,688.3L1017.4,693.5L1017.4,698.8L1017.4,702.2L1007.0,702.9L1012.2,705.7L1004.3,709.2L993.9,710.9L987.3,714.4L980.8,718.2L972.9,719.6L969.0,723.1L966.4,728.3L963.8,733.5ZM1016.1,725.1L1022.7,726.5L1027.9,726.9L1035.7,723.8L1039.4,721.3L1037.1,717.8L1033.1,716.1L1027.9,717.5L1021.4,717.8L1018.7,719.6L1016.1,716.5L1012.2,718.5L1011.4,719.6L1017.4,720.3L1012.7,722.0L1017.4,723.4ZM820.1,857.2L819.3,861.9L819.1,868.9L820.4,874.1L822.5,878.3L823.5,880.3L827.7,883.8L831.6,883.1L835.5,882.8L837.6,880.0L838.4,874.8L839.5,873.7L843.4,872.4L847.3,872.4L847.8,874.8L846.0,878.3L845.5,883.5L843.9,882.8L844.4,886.2L843.1,890.4L842.3,891.8L843.9,892.5L846.0,892.1L849.9,891.8L852.6,891.8L857.3,894.9L856.5,900.1L856.2,904.3L856.0,909.0L858.8,913.7L861.7,916.4L865.6,915.1L866.9,913.7L869.6,914.4L872.4,916.8M768.5,834.2L770.9,839.4L772.7,843.5L776.1,848.0L774.0,850.5L779.3,854.3L781.4,857.4L781.9,861.9L785.8,865.4L787.1,867.5L788.4,866.1L786.3,862.6L784.5,859.2L783.2,855.0L780.6,850.5L778.0,846.3L776.7,843.5L774.6,839.4L774.8,836.9L778.8,838.7L779.3,842.8L781.9,847.0L785.8,851.5L788.4,854.3L789.7,858.5L793.7,862.6L797.6,867.8L799.4,872.4L798.4,876.2L800.2,879.3L804.1,883.5L809.4,885.9L813.3,888.3L815.9,889.4L819.8,891.8L823.8,892.5L827.7,890.8L830.3,892.1L833.7,896.7L836.1,898.7L839.2,899.3L840.0,900.1L843.4,901.2L845.2,900.8L846.3,901.9L845.5,902.2L848.6,906.0L850.7,908.5L850.7,909.2L850.5,912.3L852.3,913.7L853.3,913.7L856.0,917.1L856.5,917.8L858.1,918.9L859.9,918.2L861.2,920.3L863.3,922.0L865.6,921.0L864.6,918.2L866.9,916.1L869.8,918.9L871.1,922.0M833.7,896.7L833.7,894.2L835.0,891.4L838.2,891.1L836.1,887.3L836.9,885.2L841.7,885.2L843.9,882.8M841.7,885.2L841.6,891.8L842.3,891.8M841.6,891.8L843.9,892.5M839.2,899.3L840.8,897.4L841.6,895.6L843.9,892.5M840.8,897.4L843.4,898.7L845.2,898.7L845.2,900.8M846.3,901.9L847.3,901.9L848.1,899.1L850.5,898.7L853.3,896.0L857.3,894.9M850.7,908.5L853.3,908.5L856.0,909.0M858.1,918.9L858.1,915.4L858.8,913.7M852.8,871.0L855.2,868.2L858.3,867.1L861.7,866.8L865.6,867.5L869.6,869.2L873.5,872.0L876.9,874.1L880.8,876.9L878.7,877.9L871.7,878.1L873.0,875.5L869.6,874.1L865.6,871.7L860.9,869.9L860.4,869.2L856.7,869.9ZM880.3,883.5L884.5,884.2L887.4,885.2L889.2,883.5L892.1,883.1L896.0,883.8L896.3,882.4L894.4,880.0L892.1,878.6L887.4,877.9L884.5,877.9L882.9,878.3L884.5,880.0L885.8,882.4L881.9,882.4L880.3,883.1ZM887.4,877.9L887.4,885.2M870.1,883.5L873.0,882.8L875.6,884.5L873.0,885.2ZM899.1,883.1L903.1,883.1L902.8,884.5L899.1,884.5ZM870.4,854.3L873.0,855.0L871.9,856.4ZM870.6,861.6L871.7,863.3L871.4,859.9ZM913.3,909.8L915.6,909.8L915.4,911.9L913.3,911.9ZM672.2,749.8L676.7,747.4L675.6,744.6L673.0,745.6L670.2,747.7ZM625.7,726.9L629.3,725.8L633.3,727.2L630.6,728.3ZM637.2,738.0L640.1,737.3L641.6,739.0L639.0,739.4ZM724.3,744.9L726.4,748.4L722.8,751.5L720.1,747.7ZM725.6,751.9L728.8,753.3L729.6,756.7L726.4,756.0L724.8,753.3ZM752.1,779.0L747.4,777.6L743.7,774.8L739.2,771.0L741.3,770.3L746.6,772.7L749.2,775.5ZM731.9,765.8L728.2,762.3L726.9,759.2L730.3,759.5L730.3,763.0ZM656.3,753.4L649.7,755.0L643.7,757.4L651.0,756.0L655.8,754.5ZM872.4,916.8L874.0,919.2L876.1,914.7L877.4,910.2L879.2,908.5L882.7,907.8L886.1,905.7L887.4,903.8L888.4,906.0L886.8,906.7L887.6,909.2L889.2,909.2L891.3,906.7L891.8,904.6L892.6,907.1L896.0,908.1L896.5,910.5L902.3,910.2L906.2,911.6L908.3,910.2L912.7,909.8L910.9,911.6L913.3,913.0L915.6,915.8L918.0,917.5L920.6,919.2L921.9,922.0L925.0,926.2L928.7,926.5L933.7,926.9L936.3,927.9L938.1,930.0L939.7,932.4L941.5,934.8L942.8,940.1L944.1,943.5L942.8,947.0L948.1,948.0L949.4,949.4L953.3,950.5L957.2,952.2L959.1,955.7L962.5,955.3L966.4,957.1L970.3,956.7L974.2,959.8L977.4,963.3L982.1,964.7L983.4,967.8L983.9,972.0L983.7,975.1L982.6,979.3L979.7,983.5L977.6,986.9L975.6,991.1L974.2,992.1L972.9,997.3L972.9,1004.3L972.4,1008.8L971.1,1015.1L969.5,1017.5L967.7,1022.7L965.1,1026.5L961.9,1026.9L958.0,1027.9L953.8,1030.3L949.6,1033.8L948.1,1036.9L947.8,1041.4L947.3,1046.3L944.9,1048.7L943.4,1052.2L941.0,1056.4L938.7,1058.8L935.3,1064.2L933.7,1066.8L931.3,1068.3L927.9,1068.2L923.7,1066.8L922.2,1065.0L925.3,1069.6L924.8,1072.0L926.6,1073.7L924.5,1078.9L920.6,1081.4L915.4,1082.4L912.2,1081.7L912.0,1088.0L904.9,1088.7L904.6,1091.1L908.0,1093.2L908.6,1094.9L904.9,1096.3L904.1,1101.5L898.4,1106.7L901.0,1110.2L902.8,1113.0L898.4,1117.1L894.4,1121.6L896.0,1128.6L889.5,1130.0L889.2,1133.8L885.3,1132.1L881.3,1127.5L878.7,1120.6L877.4,1113.7L880.0,1109.5L877.2,1108.8L882.7,1103.2L884.0,1098.0L881.9,1092.1L882.1,1085.9L883.2,1078.9L882.4,1076.2L884.7,1070.3L887.4,1063.3L887.9,1054.6L888.4,1049.4L889.2,1042.5L890.5,1035.5L890.8,1028.6L891.5,1019.9L891.0,1010.9L887.9,1007.1L884.0,1003.9L878.2,1000.1L875.3,995.3L873.0,989.0L870.4,982.4L868.3,975.5L865.9,971.0L862.5,967.8L862.2,963.0L864.9,958.8L865.9,956.4L865.6,955.0L863.0,954.6L863.8,950.5L865.4,947.0L865.4,944.2L868.5,942.1L869.6,938.3L872.2,936.9L872.7,933.5L872.2,927.9L872.4,924.4L871.1,922.0L872.4,916.8M888.4,906.0L885.3,908.5L884.0,913.0L885.5,917.8L885.5,921.3L891.5,922.7L893.4,925.8L898.4,925.5L897.6,931.4L898.9,935.2L897.3,940.8L899.9,942.8M918.0,917.5L914.8,921.7L915.4,924.1L914.3,926.5L916.1,928.9L914.1,931.7L910.4,933.1L907.0,933.1L906.7,938.3L909.1,939.4L903.8,944.2L899.9,942.8M916.1,928.9L918.0,929.3L918.2,931.7L919.0,933.8L918.2,939.0L920.1,942.1L923.2,941.8L927.1,940.2L928.7,940.1L928.7,938.3L932.1,939.0M925.3,926.5L925.0,928.9L923.2,933.1L923.7,935.2L927.1,940.2M868.5,942.1L871.4,944.2L874.8,946.1L877.9,947.3L880.6,950.5L884.0,955.0L891.0,955.7L891.8,961.6L893.4,950.8L892.1,947.7L891.5,944.9L894.2,944.7L892.2,941.1L897.3,940.9L898.6,939.7L899.9,942.8M864.9,958.8L864.3,962.3L866.7,962.6L868.3,964.4L869.8,958.8L871.4,957.4L874.5,956.0L877.2,952.2L877.9,947.3M891.8,961.6L884.2,965.1L883.4,967.8L881.9,972.3L884.2,978.2L886.1,981.7L890.2,980.0L890.2,985.2L892.9,985.0L895.2,990.4L894.4,997.3L893.4,1001.2L894.4,1003.6L893.1,1007.8L891.0,1010.9M893.1,1007.8L894.7,1013.0L895.7,1018.2L897.3,1026.2L899.1,1026.2L898.9,1030.3L896.0,1032.1L896.3,1040.4L893.1,1046.0L891.8,1051.2L890.5,1056.4L891.8,1062.6L890.5,1069.2L889.2,1073.7L889.2,1081.4L887.1,1085.9L887.1,1092.8L887.4,1099.8L887.9,1105.0L886.6,1110.2L885.3,1116.4L882.9,1118.9L883.7,1123.4L885.8,1124.1L886.6,1127.5L893.1,1128.1L896.0,1128.6M892.9,985.0L896.3,985.2L903.8,981.0L904.1,987.6L906.5,990.1L912.7,993.2L916.7,994.9L917.5,1003.6L922.2,1003.6L922.4,1007.1L924.5,1009.5L923.7,1013.0L922.7,1015.7L922.8,1017.0L923.5,1023.7L929.0,1024.4L930.0,1030.3L932.9,1030.3L932.1,1035.9L934.5,1038.0L934.2,1041.3L929.0,1045.6L924.3,1051.9L928.4,1053.9L932.1,1056.4L934.2,1058.5L935.8,1060.5L935.3,1064.2M922.8,1017.0L920.3,1014.0L913.5,1015.1L912.0,1018.2L911.0,1024.3L907.8,1023.4L906.7,1026.2L904.4,1023.7L901.5,1022.7L899.1,1026.2M932.1,1035.9L931.6,1039.7L928.7,1041.8L927.1,1042.5L921.6,1041.4L924.3,1035.9L921.1,1033.1L918.0,1030.3L915.4,1029.6L911.0,1024.3M924.3,1051.9L923.7,1054.3L922.7,1059.8L922.2,1064.7M895.5,1129.8L890.8,1131.0L890.8,1134.1L887.9,1135.2L891.8,1137.6L895.5,1138.0L901.0,1138.1L904.4,1136.7L899.7,1134.8L897.0,1132.4L896.3,1130.7ZM895.5,1129.8L895.5,1137.6M914.8,1126.5L918.0,1125.1L920.1,1126.2L918.0,1128.2ZM920.6,1125.5L923.7,1126.2L921.1,1128.2ZM881.3,1092.1L882.7,1093.9L882.4,1097.7L880.3,1097.0L880.8,1093.9ZM835.5,948.0L837.4,949.1L836.3,950.5ZM913.3,890.4L914.8,890.1L914.3,891.8ZM914.8,895.6L915.9,896.3L915.4,897.0ZM915.1,898.7L915.6,898.7L915.4,899.4ZM914.6,900.8L915.1,901.2L914.8,901.5ZM913.3,904.6L913.8,905.0L913.5,905.3ZM919.0,900.8L919.6,901.2L919.3,901.9ZM975.6,1134.5L980.0,1135.5L981.3,1137.3L977.6,1136.2ZM879.2,1099.8L881.6,1100.8L880.6,1103.9L878.7,1102.5ZM877.9,1112.3L880.3,1113.0L879.8,1115.7L877.4,1114.7ZM877.7,1117.1L880.0,1118.2L879.2,1121.6L877.4,1120.3ZM879.0,1123.4L881.3,1124.1L880.6,1127.2L878.7,1125.8ZM881.9,1128.6L885.0,1129.6L883.2,1132.4L880.8,1131.0ZM885.8,1133.1L889.2,1134.5L887.1,1136.6L884.5,1135.2ZM890.5,1137.6L895.7,1138.7L898.4,1140.0L893.1,1139.7ZM882.4,1103.9L884.0,1106.0L882.4,1108.1ZM880.8,1106.7L882.1,1107.8L881.3,1109.5ZM1081.3,809.5L1083.1,808.3L1083.9,809.2L1082.9,810.6ZM1030.8,848.7L1032.9,847.7L1032.1,849.8ZM1033.7,849.4L1034.7,849.4L1034.2,850.7ZM1037.6,847.7L1038.6,847.4L1037.6,849.4ZM1059.3,759.3L1058.8,760.6L1059.0,761.9L1059.3,763.3L1058.4,765.9L1055.4,766.1L1053.3,767.2L1050.1,768.2L1048.3,767.3L1047.8,766.1L1049.6,764.4L1050.1,763.0L1048.8,761.6L1048.8,758.8L1052.5,758.5L1052.2,757.3L1053.0,755.7L1055.6,754.8L1055.9,756.0M1051.7,801.5L1052.2,804.1L1051.7,807.4L1050.4,810.2L1050.1,812.3L1050.9,812.6L1050.9,813.7L1052.0,813.7L1052.0,815.4L1051.4,818.5L1054.3,818.5L1055.6,817.8M1081.5,769.6L1083.9,768.6L1084.7,767.2L1085.7,766.5L1087.0,764.8L1087.4,763.2L1089.1,762.3L1091.2,761.5L1093.3,761.7L1093.8,762.0L1093.6,760.8L1095.9,760.6L1097.2,761.2L1097.5,759.9L1098.6,760.0L1098.3,758.6L1097.5,758.2L1097.8,756.5L1097.0,754.4L1096.2,752.7L1096.2,750.6L1097.5,748.8L1100.9,747.1L1102.7,746.6L1102.5,748.5L1102.0,750.2L1103.5,751.3L1101.7,752.3L1100.9,754.4L1100.4,755.4L1100.9,756.8L1101.2,757.9L1103.5,758.2L1103.5,759.6L1105.1,759.6L1106.7,758.9L1107.7,758.1L1110.1,757.4L1111.1,759.3L1112.2,760.0L1113.2,759.7L1116.9,758.8L1119.5,757.3L1122.9,756.9L1123.8,758.3L1126.3,758.2L1127.1,756.6L1130.0,755.2L1130.1,752.4L1130.0,750.0L1131.5,747.2L1134.1,746.7L1135.7,748.1L1138.1,749.2L1138.9,748.3L1138.6,746.2L1139.1,744.5L1136.5,743.8L1136.5,741.7L1139.6,740.7L1143.0,740.3L1148.3,740.7L1149.6,740.0L1150.9,739.0L1154.0,739.3L1150.9,738.3L1149.8,737.6L1147.8,737.1L1143.0,737.6L1140.4,738.2L1135.2,739.4L1133.4,737.5L1130.7,736.1L1131.0,733.7L1130.7,730.2L1131.5,728.1L1135.2,725.4L1139.1,722.6L1141.5,721.6L1141.2,719.8L1138.2,718.8L1133.4,719.5L1131.3,723.3L1130.0,724.3L1128.1,725.7L1123.4,728.8L1120.5,730.9L1120.0,735.4L1120.0,736.4L1123.7,738.2L1124.5,740.3L1122.4,741.3L1120.8,743.4L1118.7,745.5L1118.4,747.5L1117.9,750.3L1116.9,752.0L1113.5,752.4L1112.4,754.3L1110.1,755.0L1108.8,754.1L1108.2,752.4L1108.8,750.6L1106.4,747.5L1106.1,746.8L1104.6,744.4L1104.0,742.3L1103.0,739.1L1102.7,741.2L1100.4,742.3L1098.0,744.2L1095.9,745.4L1093.3,745.7L1089.9,743.6L1089.7,742.4L1088.6,739.4L1088.1,737.3L1088.1,734.6L1088.3,731.8L1091.2,730.1L1093.8,728.3L1097.2,727.0L1100.4,725.9L1102.2,726.8L1103.3,723.2L1104.6,721.8L1107.5,719.4L1108.5,716.9L1110.3,714.9L1112.7,713.5L1115.6,710.7L1118.2,709.3L1120.8,707.3L1124.7,705.2L1129.7,703.8L1132.6,703.1L1137.0,701.8L1142.5,700.2L1147.2,700.4L1149.6,701.5L1156.1,702.9L1153.5,704.6L1155.6,705.0M1103.5,753.7L1106.9,752.3L1108.0,753.7L1106.9,756.2L1104.0,755.5ZM1100.6,754.4L1103.0,754.2L1103.3,755.8L1101.2,755.8ZM1122.6,749.3L1124.5,746.2L1124.7,747.9L1123.2,749.6ZM1132.6,745.9L1135.7,743.8L1132.6,743.8L1132.3,744.8ZM1133.6,742.9L1135.2,742.2L1134.1,742.0ZM1083.9,768.6L1086.0,768.6L1088.1,768.2L1090.4,770.0L1090.7,770.9L1091.0,773.1L1090.2,775.0M1091.0,773.1L1091.7,775.2M1090.7,770.9L1091.0,766.9L1092.8,766.5L1093.3,764.4L1093.8,762.0M1097.8,756.5L1100.9,756.8M1096.5,777.0L1094.9,781.8L1097.5,781.5L1100.1,782.2L1100.1,783.6L1102.5,784.4M1100.1,782.2L1102.5,782.5L1106.9,781.9L1109.0,782.2L1108.5,779.8L1111.1,777.9L1113.5,778.4L1114.3,777.0L1117.1,777.9L1119.4,778.4L1119.9,780.5L1118.2,781.6L1117.1,784.5L1113.2,786.1L1110.9,785.7M1111.1,777.9L1107.7,774.6L1106.7,772.5L1108.8,772.0L1112.4,770.1L1113.7,770.6L1116.9,771.5L1119.2,772.2L1121.1,772.5L1124.3,775.3L1122.1,777.1L1119.4,778.4M1113.7,770.6L1114.3,769.0L1113.2,764.5L1112.2,763.5L1112.2,760.0M1124.3,775.3L1126.8,776.4L1128.9,775.7L1134.0,776.8L1133.0,779.2L1128.6,778.8L1126.3,779.9L1123.9,781.1L1119.9,780.5M1134.0,776.8L1134.4,775.0L1137.8,771.6L1136.8,768.4L1136.8,764.6L1137.5,763.2L1136.5,759.9L1134.7,758.5L1126.3,758.2M1134.7,758.5L1134.4,756.5L1130.7,755.4L1130.0,755.2M1136.5,759.9L1141.7,759.1L1142.5,756.7L1144.6,753.9L1140.4,752.1L1135.2,751.6L1130.1,752.4M1144.6,753.9L1148.7,752.3L1147.8,748.3L1146.6,747.5L1143.0,746.6L1140.4,745.9L1138.6,746.2M1146.6,747.5L1147.5,742.8L1148.3,740.7M1148.7,752.3L1153.5,753.6L1155.9,756.4L1156.1,759.8L1160.1,762.6L1157.2,763.0L1158.2,766.4L1154.8,769.2L1147.0,768.5L1140.4,767.1L1136.8,768.4M1158.2,766.4L1163.5,765.6L1167.6,770.3L1170.5,772.7L1174.4,774.1L1179.7,775.2L1179.2,778.7L1179.2,781.5L1175.0,783.9M1133.0,779.2L1134.9,780.6L1139.9,781.3L1144.6,779.8L1147.0,779.1L1151.2,781.0L1153.2,784.8L1153.8,786.2M1144.6,779.8L1146.2,781.7L1148.5,784.8L1148.8,789.5L1152.6,790.4M1148.8,789.5L1150.6,787.6L1153.2,786.2M1134.9,780.6L1130.5,786.1L1128.0,787.0L1124.5,787.8L1121.3,787.8L1118.3,785.7L1117.1,784.5M1111.1,788.8L1112.9,789.2L1115.0,789.2L1116.1,786.8L1118.3,785.7M1124.5,787.8L1124.7,791.3L1125.8,791.3L1125.0,793.4L1126.0,795.8L1124.5,796.9L1123.4,800.0M1124.7,791.3L1119.2,790.2L1116.3,790.2L1116.3,792.0L1117.7,793.7L1121.1,797.5L1121.3,798.2L1123.4,800.0M1128.0,787.0L1131.0,790.3L1131.0,791.7L1134.3,793.8L1133.6,797.2L1134.9,797.9L1133.5,800.4L1131.3,800.5L1128.9,801.7L1128.6,800.3L1127.6,799.3L1127.6,797.9L1126.0,795.8M1125.6,801.9L1126.8,799.6L1127.6,799.3M1128.6,800.3L1128.9,801.7L1128.6,803.8L1130.0,805.4L1128.1,808.3L1127.3,809.4M1133.5,800.4L1135.1,803.7L1132.6,804.5L1130.0,805.4M1135.1,803.7L1139.1,803.2L1141.2,804.0L1144.0,802.5L1144.6,803.7L1143.2,805.8M1144.0,802.5L1146.4,801.1L1148.3,801.5M1134.3,793.8L1137.8,795.4L1141.7,795.7L1145.7,794.2L1149.8,795.4M1147.8,737.1L1151.7,734.5L1156.9,728.9L1153.5,726.1L1154.8,722.3L1152.5,719.9L1153.8,718.2L1151.2,715.0L1153.5,712.3L1149.6,709.5L1150.6,707.6L1155.6,705.0M1150.6,707.6L1151.7,706.0L1148.3,704.3L1143.0,705.3L1142.3,707.0L1139.9,709.1L1135.2,708.7L1131.5,706.6L1128.6,707.5L1136.8,711.5L1137.0,716.7L1138.2,718.8M1128.6,707.5L1127.3,709.7L1122.4,709.4L1121.8,711.3L1117.9,712.8L1115.3,717.0L1112.9,717.7L1113.2,720.4L1110.9,722.9L1111.9,724.9L1108.2,724.9L1106.7,726.7L1106.9,732.9L1108.8,734.3L1107.7,737.8L1105.9,739.5L1105.6,741.9L1104.0,742.3M1111.1,788.8L1110.6,790.6L1111.4,791.6L1112.4,789.9L1114.0,790.6L1114.8,793.3L1116.9,796.1L1120.0,797.9L1123.4,800.0L1125.6,801.9L1125.8,803.8L1125.5,806.2L1127.3,809.4L1129.2,812.2L1130.2,814.2L1132.1,814.3L1134.9,815.3L1135.2,815.7L1133.9,815.0L1131.8,814.8L1130.7,816.3L1131.8,819.5L1133.6,820.5L1134.7,819.5L1135.5,820.7L1135.7,817.7L1136.5,817.0L1135.2,815.7L1137.8,816.5L1137.8,814.6L1135.2,812.2L1134.1,810.8L1134.9,809.7L1134.1,807.0L1136.2,807.7L1137.3,808.5L1137.8,807.0L1138.9,807.9L1137.8,805.9L1140.4,805.3L1143.2,805.8L1143.6,807.4L1144.9,806.7L1146.4,805.1L1148.3,804.9L1150.9,804.8L1150.9,804.1L1148.3,801.5L1147.5,799.0L1149.8,795.4L1150.1,793.1L1152.6,790.4L1153.8,786.2L1156.1,785.5L1158.7,785.9L1158.2,786.8L1161.9,787.3L1160.1,789.7L1162.9,793.2L1167.4,791.1L1170.5,790.1L1166.6,787.7L1167.1,786.3L1171.3,784.9L1175.0,783.9L1177.8,784.2L1173.1,787.7L1171.8,790.1L1175.0,793.2L1178.9,796.4L1179.7,796.7M1136.5,824.7L1137.8,823.8L1141.7,824.7L1143.8,825.1L1139.9,825.9L1136.5,824.7ZM1159.5,825.8L1161.4,824.6L1165.4,823.6L1163.7,825.8L1161.4,827.2ZM1136.0,812.2L1138.1,813.2L1139.4,815.3L1136.5,812.9ZM1112.4,822.3L1113.1,822.7L1112.7,822.9ZM1115.6,674.6L1119.5,669.4L1132.6,668.1L1145.7,669.5L1137.8,672.3L1131.3,674.3L1124.7,675.0L1119.5,680.5L1112.9,677.7ZM1128.6,674.7L1135.2,675.7L1132.6,678.5L1129.4,677.8ZM1059.6,822.7L1061.1,822.4L1063.5,825.0L1067.1,824.4L1069.2,825.1L1072.4,823.0L1075.3,822.0L1078.4,820.1L1082.9,819.3L1088.3,819.5L1093.1,818.6L1097.5,819.0L1100.8,817.6L1102.0,819.0L1104.0,818.5L1102.5,820.7L1102.7,822.8L1104.0,824.9L1101.7,828.0L1101.4,829.8L1104.3,831.8L1108.0,833.3L1109.5,832.9L1114.8,834.8L1116.1,838.1L1120.3,839.7L1124.7,842.0L1127.3,839.9L1127.6,836.1L1131.3,833.0L1135.5,834.1L1140.4,836.5L1146.4,838.4L1150.9,840.2L1155.9,838.1L1159.3,838.7L1164.5,838.7M1166.3,844.9L1165.8,850.1L1164.5,850.8L1162.9,849.1L1160.3,843.4L1159.5,844.6L1162.7,850.8L1164.0,855.0L1167.9,864.4L1168.4,867.5L1171.6,871.0L1172.4,874.5L1172.1,879.7L1173.1,882.8L1176.0,884.9L1177.8,892.2L1179.7,895.3L1182.8,897.1L1186.0,901.6L1187.8,903.4L1188.3,906.0L1187.0,907.3L1188.2,907.7L1190.9,911.2L1194.9,909.8L1198.0,908.8L1203.0,908.5L1207.9,906.0L1209.1,906.6L1208.7,911.3L1207.9,914.9L1205.3,919.7L1203.0,926.7L1200.4,932.2L1195.4,939.1L1190.9,942.6L1186.5,948.1L1183.7,953.2L1182.0,955.4L1180.2,956.8L1177.6,963.6L1176.5,968.2L1178.4,971.4L1177.8,976.2L1179.2,982.1L1180.9,983.9L1181.3,991.2L1181.3,998.5L1179.9,1003.7L1177.1,1006.1L1171.8,1009.2L1170.5,1013.0L1167.1,1016.1L1166.1,1018.9L1167.6,1024.1L1167.9,1030.7L1166.6,1033.1L1161.1,1036.2L1161.1,1040.6M1118.0,1046.5L1115.0,1040.9L1113.9,1034.0L1112.8,1026.3L1110.1,1019.7L1105.9,1010.0L1105.7,1007.0L1105.9,1002.7L1107.7,994.0L1110.7,988.8L1111.1,984.3L1109.0,978.7L1110.1,976.3L1107.2,968.3L1106.9,967.3L1106.4,964.5L1104.0,960.8L1100.6,955.8L1098.0,949.7L1099.3,946.1L1100.1,943.6L1100.6,939.1L1100.4,936.0L1098.4,931.1L1097.2,931.3L1093.6,931.6L1090.4,932.1L1089.1,929.2L1086.8,925.2L1082.1,925.0L1078.1,925.8L1075.0,927.0L1072.4,928.9L1069.5,930.5L1066.9,929.3L1063.0,928.9L1059.3,930.5L1055.4,931.9L1051.4,929.5L1046.7,923.4L1044.9,922.9L1042.3,921.3L1040.3,916.1L1036.5,910.0L1035.7,909.5L1031.3,904.1L1031.0,901.3L1031.7,899.8L1029.2,895.8L1031.8,891.3L1032.3,886.2L1033.0,881.0L1031.8,879.6L1032.3,875.8L1030.4,874.8L1030.5,872.7L1033.1,864.7L1036.0,861.2L1037.1,856.4L1040.5,851.0L1043.6,849.4L1046.5,847.0L1049.1,844.1L1049.9,841.5L1049.4,837.6L1050.7,834.0L1052.8,831.4L1057.2,829.0L1058.8,825.1L1059.6,822.7M1204.0,989.2L1205.8,994.4L1207.2,1001.0L1205.3,1001.3L1204.3,1009.3L1203.2,1013.5L1201.7,1019.7L1200.4,1025.3L1198.3,1033.9L1194.1,1036.2L1190.1,1034.3L1188.2,1024.5L1188.8,1021.4L1191.5,1016.6L1190.1,1011.3L1191.2,1003.7L1193.6,1002.9L1196.2,1002.0L1200.1,998.2L1200.6,994.4L1203.0,990.9ZM1052.2,851.0L1052.2,847.4L1056.4,844.2L1061.4,843.2L1065.6,839.7L1067.1,836.9L1071.9,835.5L1070.3,829.0L1069.2,825.1M1040.5,851.0L1052.2,851.0L1052.2,852.2L1052.2,857.1L1043.6,857.1L1043.6,865.8L1041.0,867.1L1040.7,872.9L1030.5,872.9M1052.2,852.2L1062.4,860.2L1058.0,860.2L1060.6,889.7L1061.1,890.4L1060.3,893.2L1050.1,893.5L1046.5,894.6L1044.1,895.6L1043.1,895.8L1036.8,889.2L1031.8,891.3M1062.4,860.2L1078.1,873.8L1079.7,876.5L1083.1,878.6L1083.4,880.9L1086.1,880.6L1086.1,888.5L1084.4,892.9L1078.7,893.9L1075.5,895.1L1073.2,894.7L1069.8,897.7L1067.4,899.6L1065.8,901.2L1063.7,901.2L1063.5,903.6L1061.4,906.4L1060.6,910.7M1083.1,878.6L1090.2,879.5L1094.6,874.7L1106.4,865.5L1099.9,855.6L1100.9,853.7L1100.4,849.5L1100.8,846.4L1099.9,841.9L1098.7,835.6L1096.7,834.2L1094.6,829.9L1096.5,827.0L1096.7,820.7L1097.5,819.0M1099.9,841.9L1102.0,839.8L1101.4,837.7L1105.4,834.3L1105.1,832.0M1106.4,865.5L1112.2,868.7L1114.3,867.3L1116.9,865.7L1137.8,879.5L1137.8,877.8L1140.4,877.8L1140.4,870.9L1140.4,845.9L1139.6,842.4L1140.8,837.4M1140.4,870.9L1157.2,870.9L1171.6,871.0M1164.5,838.7L1166.3,844.9M1116.9,865.7L1115.6,874.3L1116.6,876.3L1115.6,888.5L1110.6,896.8L1110.3,899.9L1111.6,901.7L1112.2,904.1L1113.2,903.1L1114.0,904.8L1114.5,909.0L1116.1,912.4L1112.2,912.4L1111.5,913.8L1114.8,917.6L1115.6,921.1L1112.9,925.6L1112.7,931.2L1114.5,934.0L1117.1,937.3L1117.4,939.5M1137.8,879.5L1137.8,892.7L1134.9,893.1L1133.9,898.3L1132.8,903.1L1134.9,907.7L1134.9,909.4L1137.0,912.9L1136.5,917.0L1138.3,917.0L1140.9,920.5L1144.1,924.2L1146.7,929.6M1114.8,917.6L1118.4,920.4L1123.7,919.2L1125.0,916.0L1131.8,910.4L1134.9,909.4M1086.1,888.5L1086.0,890.1L1092.5,900.7L1095.4,900.9L1100.1,902.7L1107.2,901.6L1110.3,899.9M1084.4,892.9L1084.4,906.4L1082.3,904.0L1080.6,903.3L1081.3,905.7L1077.4,908.8M1112.2,904.1L1109.5,912.1L1107.1,918.0L1104.8,924.2L1101.4,922.8L1099.1,924.5L1097.2,931.3M1084.4,906.4L1084.9,910.2L1082.3,915.6L1082.2,919.9L1082.1,925.0M1077.4,908.8L1077.1,910.9L1079.2,915.4L1079.3,922.9L1078.1,925.8M1077.4,908.8L1074.6,908.5L1076.0,911.2L1076.3,918.5L1076.6,922.9L1078.1,925.8M1074.6,908.5L1067.7,908.8L1067.9,914.0L1068.5,918.5L1066.6,923.4L1067.7,928.6L1066.9,929.3M1067.7,908.8L1067.7,912.6L1063.7,913.7L1060.6,910.7L1058.8,910.2L1054.3,911.6L1053.3,917.5L1055.1,920.3L1052.8,924.4L1055.4,926.9L1055.4,931.9M1054.3,911.6L1053.0,907.4L1050.7,903.9L1045.2,903.9L1045.2,905.3L1042.8,904.3L1039.1,903.1L1035.7,909.0L1035.7,909.5M1039.1,903.1L1031.3,904.1M1045.2,903.9L1043.1,895.8M1031.0,901.3L1034.7,900.6L1038.9,900.6L1035.5,899.1L1031.7,899.8M1052.8,924.4L1050.7,921.3L1048.0,917.5L1044.9,922.9M1048.0,917.5L1047.0,914.7L1045.7,912.3L1042.3,912.8L1040.3,916.1M1100.6,939.1L1104.6,939.5L1109.8,939.5L1117.4,939.5L1118.4,935.0L1123.7,935.0L1123.7,932.3L1125.8,929.5L1133.6,932.8L1138.9,929.5L1141.2,929.9L1146.7,929.6L1149.3,932.4L1152.7,931.3L1155.7,935.2M1100.1,943.6L1104.6,943.6L1104.6,939.5M1109.8,939.5L1112.9,942.6L1111.6,948.9L1112.9,949.2L1112.7,953.7L1109.0,955.5L1105.4,955.3L1104.0,960.8M1117.4,939.5L1121.3,948.9L1117.4,954.8L1117.4,960.7L1112.7,964.0L1109.3,963.1L1106.9,967.3M1107.2,968.3L1109.5,967.4L1118.4,967.5L1119.5,972.5L1125.8,971.5L1126.0,975.0L1132.1,972.6L1132.3,976.4L1132.1,980.2L1133.4,986.1L1137.8,985.1L1137.8,990.0L1137.8,992.4L1132.6,992.4L1132.6,1003.5L1136.2,1008.4L1131.0,1009.7L1127.3,1009.4L1123.4,1007.6L1111.6,1007.6L1110.1,1006.0L1105.7,1007.0M1137.8,990.0L1141.2,986.2L1145.4,988.6L1146.2,987.6L1149.3,990.4L1150.9,993.8L1153.0,994.0L1153.0,989.5L1149.3,988.3L1150.1,981.3L1150.6,976.8L1155.5,975.8M1146.7,929.6L1149.3,932.4M1155.7,935.2L1156.7,939.7L1153.4,944.4L1152.5,952.2L1150.9,956.7L1151.4,958.8L1151.9,962.8L1152.2,968.1L1155.5,975.8M1152.5,952.2L1154.8,951.0L1155.7,955.3L1154.8,955.7L1155.7,958.8L1153.5,962.2L1151.9,962.8M1150.9,956.7L1154.8,955.7M1154.8,951.0L1163.7,950.8L1173.4,957.8L1173.7,959.5L1177.6,963.6M1163.7,950.8L1163.7,947.0L1165.3,943.5L1166.6,940.8L1164.0,932.8L1169.0,931.4L1169.2,931.9L1171.6,931.9L1174.7,934.9L1178.4,935.6L1181.8,932.8L1184.7,933.7L1182.3,937.7L1182.3,950.6L1183.7,953.2M1155.7,935.2L1159.3,934.8L1164.0,932.8M1169.0,931.4L1167.4,928.6L1165.8,924.1L1161.4,920.3L1164.2,917.8L1164.2,914.4L1164.8,910.6L1161.9,909.8L1161.9,905.0L1160.6,905.0L1158.7,905.7L1159.5,906.7L1156.7,913.3L1152.2,913.3L1150.9,914.0L1148.0,914.0L1144.4,914.3L1140.7,911.5L1137.8,917.0L1136.5,917.0M1164.8,910.6L1166.6,909.2L1169.5,903.3L1170.5,897.7L1174.2,895.7L1175.8,884.9M1170.5,897.7L1174.2,895.7L1177.1,896.7L1181.8,898.5L1186.0,904.0L1187.8,903.4M1186.0,904.0L1184.4,909.2L1187.3,909.4L1188.2,907.7M1187.3,909.4L1187.5,913.1L1190.1,916.2L1198.0,919.7L1200.6,919.7L1192.8,930.1L1187.5,931.1L1184.7,933.7M1155.5,975.8L1161.1,980.0L1164.0,980.3L1166.3,987.5L1173.1,988.0L1180.9,983.9M1161.1,980.0L1162.1,984.8L1161.4,991.1L1160.6,994.6L1161.9,996.0L1165.5,997.4L1169.0,1002.9L1167.4,1006.7L1165.0,1004.0L1165.5,1000.5L1165.5,997.4L1166.3,987.5M1160.6,994.6L1154.0,998.7L1154.6,1001.5L1158.7,1004.6L1161.4,1009.8L1160.6,1018.5L1156.9,1025.1M1154.6,1001.5L1150.9,1002.5L1145.7,1009.6L1141.2,1009.1L1136.2,1008.4M1141.2,1009.1L1143.6,1015.0L1147.5,1018.5L1147.5,1020.5L1151.9,1024.4M1141.2,1009.1L1139.4,1008.0L1131.0,1009.7L1130.0,1010.8L1130.0,1023.6L1127.3,1023.6L1127.3,1033.3M1167.4,1006.7L1166.6,1005.7L1165.0,1004.0M1155.6,705.0L1158.7,704.6L1161.6,706.4L1169.2,707.1L1174.4,710.3L1181.0,712.4L1182.8,715.5L1179.7,717.6L1174.4,717.9L1166.6,716.1L1161.4,715.8L1159.8,714.4L1166.1,718.6L1166.1,723.4L1170.5,725.5L1173.9,725.2L1174.4,722.8L1181.0,723.3L1179.7,720.0L1184.9,716.9L1190.7,716.6L1190.1,718.7L1188.3,709.1L1195.4,710.3L1196.7,712.1L1200.6,712.8L1205.8,710.7L1215.0,708.7L1217.6,710.8L1225.5,709.4L1232.0,709.1L1232.5,705.8L1243.8,707.1L1249.0,709.9L1254.3,709.5L1250.3,706.4L1249.8,701.2L1254.3,696.0L1258.2,693.9L1264.7,695.0L1265.5,699.5L1263.4,704.7L1264.7,709.9L1267.3,715.1L1268.7,709.9L1270.0,701.3L1271.3,696.1L1277.8,696.1L1280.4,699.6L1284.4,697.9L1290.9,699.6L1292.2,703.1L1285.7,692.7L1301.4,691.0L1302.7,687.5L1315.8,684.8L1331.5,683.1L1348.0,678.3L1355.0,680.8L1369.4,682.6L1372.0,686.1L1362.9,689.5L1369.4,691.9L1355.0,694.0L1373.3,692.7L1385.1,693.0L1398.2,692.8L1407.4,693.1L1413.9,700.1L1412.6,702.5L1420.4,700.1L1434.8,700.5L1441.4,696.7L1457.1,697.5L1468.9,700.7L1474.1,702.4L1492.4,705.6L1497.6,707.0L1506.8,707.1L1516.0,705.7L1521.2,708.9L1522.5,705.8L1535.6,706.5L1546.1,709.7L1546.1,723.2L1543.4,724.2L1539.5,724.2L1542.1,726.7L1544.2,730.5L1544.0,732.6L1534.3,734.3L1526.4,737.4L1520.7,740.8L1510.7,739.7L1505.5,741.1L1502.4,745.6L1499.0,748.0L1501.6,751.8L1502.4,753.9L1499.0,758.4L1493.7,764.0L1490.3,764.6L1485.1,771.9L1483.3,768.1L1482.2,759.4L1482.5,751.4L1485.9,748.0L1492.4,742.1L1497.6,738.6L1502.9,734.5L1505.5,731.7L1495.0,734.5L1492.4,734.4L1485.9,734.8L1479.3,742.0L1472.8,743.7L1469.6,742.0L1463.6,742.7L1449.8,742.4L1442.7,747.8L1436.1,752.3L1429.1,758.5L1434.8,761.0L1440.1,760.3L1444.8,763.8L1444.5,766.2L1442.7,771.4L1442.2,780.1L1437.5,786.3L1430.9,793.9L1423.6,800.1L1420.2,798.7L1417.0,801.5L1414.4,804.3L1414.4,806.7L1408.7,810.1L1408.4,812.2L1411.0,814.3L1413.6,819.9L1413.9,823.4L1413.1,826.1L1410.0,827.5L1406.1,829.2L1405.8,825.1L1406.3,820.6L1406.6,817.4L1405.0,817.3L1402.6,817.1L1401.3,816.0L1402.9,811.2L1400.6,809.4L1394.3,812.5L1392.2,813.6L1395.1,807.7L1391.7,806.3L1387.7,810.1L1383.3,813.2L1386.2,817.0L1386.4,819.1L1390.9,817.0L1395.6,818.4L1395.3,820.2L1390.3,822.9L1387.2,826.7L1389.8,829.5L1391.4,834.4L1394.0,838.2L1393.8,840.6L1391.1,843.1L1394.3,844.5L1393.2,850.0L1389.8,854.9L1387.7,859.7L1383.8,863.5L1380.4,867.3L1373.9,870.8L1370.7,871.8L1365.5,873.9L1363.9,874.5L1363.7,877.7L1362.1,873.5L1359.2,872.8L1357.6,873.5L1354.2,875.9L1351.9,882.1L1353.7,886.3L1356.6,890.8L1358.4,892.6L1360.3,897.8L1361.0,903.0L1360.8,907.2L1357.6,911.0L1354.5,912.4L1353.7,915.1L1350.3,917.9L1349.3,918.2L1349.8,913.7L1348.5,912.0L1346.1,911.6L1344.6,908.8L1344.3,907.5L1342.5,905.7L1339.3,904.0L1339.1,901.5L1338.0,901.2L1336.7,901.9L1336.6,906.4L1334.6,911.6L1334.9,915.7L1336.7,918.5L1338.0,923.1L1340.6,924.5L1342.2,926.5L1345.6,931.4L1345.6,935.9L1347.7,941.1L1347.7,943.2L1345.6,942.9L1342.5,940.4L1340.1,937.6L1338.3,933.5L1337.5,929.0L1337.0,925.8L1335.7,923.4L1332.3,920.3L1332.3,916.8L1333.0,913.3L1332.8,908.1L1333.0,902.9L1330.7,895.9L1330.4,890.7L1328.3,889.0L1324.7,893.5L1321.8,892.4L1322.3,887.2L1321.5,882.7L1320.0,879.2L1318.1,877.5L1316.5,875.7L1315.2,870.5L1313.1,869.1L1311.8,871.6L1308.2,872.2L1305.8,872.6L1302.7,873.3L1302.4,876.0L1301.1,878.5L1298.0,879.8L1294.8,884.0L1290.4,888.8L1287.8,891.3L1284.9,894.0L1284.6,899.2L1285.1,902.4L1283.8,907.2L1284.0,912.1L1281.7,915.5L1279.6,916.9L1277.9,919.8L1275.5,916.9L1274.7,913.3L1272.8,907.9L1270.8,903.0L1269.2,897.1L1268.1,894.0L1266.8,888.7L1265.5,881.8L1265.3,876.6L1265.0,873.1L1264.7,870.7L1263.7,874.1L1260.5,875.9L1256.1,870.6L1255.6,870.3L1259.0,868.2L1255.0,867.2L1253.5,865.4L1251.4,864.4L1250.3,861.6L1249.0,859.5L1243.8,860.2L1238.6,860.2L1236.2,860.2L1233.3,859.8L1229.4,859.4L1225.0,858.0L1223.6,853.5L1222.3,853.2L1218.4,855.6L1215.0,854.5L1212.4,852.1L1209.8,850.7L1207.9,847.2L1206.4,843.4L1203.2,842.0L1202.1,843.5L1200.6,843.3L1200.5,845.4L1201.7,848.4L1202.7,851.3L1204.8,853.8L1206.1,855.5L1206.4,858.6L1207.9,861.6L1207.9,859.0L1209.0,856.7L1210.0,858.0L1210.0,861.1L1209.0,862.1L1210.0,863.7M603.9,707.8L610.5,709.9L618.3,714.0L626.2,714.7L630.9,717.5L627.5,719.6L623.8,723.8L621.0,723.4L615.7,722.0L613.1,719.6L607.9,717.2L605.2,719.6L603.9,721.3M603.9,698.8L607.9,698.4L610.5,699.8L605.2,700.8L603.9,700.5M1546.1,700.6L1543.4,700.6L1542.7,702.4L1546.1,702.4M1222.6,861.1L1223.1,862.5L1224.7,864.6L1228.4,865.7L1231.5,869.5L1230.4,873.3L1228.1,876.8L1226.3,881.6L1226.0,882.0L1223.1,883.0L1222.3,885.4L1219.7,886.5L1218.9,888.6L1216.3,888.7L1214.0,889.7L1211.6,893.4L1206.4,895.8L1203.5,897.2L1202.4,898.9L1199.0,900.3L1193.8,902.3L1192.8,903.2L1188.8,903.5L1188.2,901.3L1187.0,895.7L1187.0,890.5L1185.7,887.0L1182.8,882.5L1181.8,878.7L1178.9,876.6L1177.3,873.5L1177.1,868.6L1174.4,863.7L1172.4,860.9L1172.4,860.2L1170.8,857.5L1167.1,850.0L1165.7,849.8L1166.5,845.5M1221.7,857.1L1222.6,856.1L1222.9,857.3L1222.3,858.7M1164.5,838.7L1165.4,837.5L1166.6,833.5L1166.9,832.4L1167.9,829.7L1169.2,827.2L1169.0,824.5L1169.7,820.3L1168.2,820.3L1164.0,821.3L1160.8,822.4L1158.7,820.4L1155.1,819.4L1154.6,821.5L1151.2,819.9L1148.8,819.5L1146.7,818.8L1146.4,816.4L1143.8,814.3L1145.7,812.2L1143.6,810.1L1143.6,807.4M1150.9,804.8L1153.2,805.7L1150.9,807.0L1146.4,807.0L1144.9,806.7M1150.9,804.1L1156.7,804.6L1162.1,801.5L1167.1,801.5L1170.3,804.2L1175.5,805.2L1180.2,805.1L1183.6,803.3L1183.6,800.2L1179.7,796.7M1199.3,798.2L1199.3,801.7L1202.2,802.4L1203.5,804.1L1205.3,806.6L1204.3,807.9L1204.3,810.7L1203.0,814.0L1203.5,816.8L1206.4,817.7L1208.7,819.9L1211.9,820.5L1216.1,819.4L1216.3,817.9L1216.1,812.3L1214.0,811.1L1214.7,808.7L1212.9,808.5L1213.4,805.5L1216.3,805.9L1218.1,805.2L1215.5,801.4L1212.1,802.6L1212.4,798.9L1209.3,797.5L1206.6,793.7L1209.3,792.7L1209.3,790.4L1213.7,790.1L1214.2,785.4L1209.0,784.2L1203.5,786.4L1202.2,788.5L1199.8,789.2L1197.2,792.6L1199.6,795.8L1199.3,798.2ZM1166.5,845.5L1166.3,844.9L1167.9,838.0L1168.0,834.9L1168.7,831.8L1166.9,832.4M1168.7,831.8L1170.8,828.6L1169.2,827.2M1169.7,820.3L1171.0,821.5L1174.4,819.6L1179.7,819.6L1185.8,818.6M1168.7,831.8L1171.3,835.2L1176.5,831.4L1182.3,828.0L1182.8,821.1L1185.8,818.6M1171.3,835.2L1177.1,836.3L1171.8,838.0L1174.4,841.5L1173.1,843.2L1169.2,846.0L1166.5,845.5M1176.5,831.4L1177.6,835.8L1180.7,836.5L1184.9,839.5L1192.0,846.1L1196.7,846.5L1199.8,848.4L1201.7,848.4M1196.7,846.5L1199.0,843.3L1200.6,843.3M1185.8,818.6L1192.2,818.5L1190.1,810.7L1192.2,809.6L1189.1,804.8L1186.5,803.4L1183.6,803.3M1192.2,818.5L1194.1,822.5L1195.6,825.6L1193.8,829.4L1195.6,832.6L1199.8,837.1L1200.1,839.9L1202.1,843.5M1192.2,809.6L1196.7,812.4L1200.6,810.0L1203.0,814.0M1189.1,804.8L1192.8,804.3L1197.0,802.4L1202.2,802.4M1192.8,804.3L1196.7,812.4M1179.7,796.7L1186.0,797.5L1192.5,799.2L1196.4,802.0L1197.0,802.4L1199.3,798.2M1210.0,863.7L1208.5,862.3L1207.9,861.6M1212.7,867.9L1218.9,869.1L1219.5,868.8L1218.9,878.1L1211.1,881.6L1203.5,882.9L1201.1,884.5L1198.0,888.6L1193.3,887.1L1188.6,886.5L1187.8,889.8L1187.0,890.5M1211.1,881.6L1214.0,889.7M1175.0,783.9L1179.2,781.5M1203.5,786.4L1196.7,779.4L1199.3,772.5L1202.4,774.3L1207.9,768.0L1218.9,770.9L1228.1,770.5L1236.2,771.3L1232.0,767.1L1235.2,760.5L1245.6,759.2L1255.3,755.4L1261.3,759.9L1267.3,760.3L1276.0,758.9L1284.4,771.5L1293.3,770.8L1298.2,775.7L1303.6,777.4M1303.6,777.4L1304.8,777.1L1307.9,774.7L1315.8,771.6L1321.5,772.3L1329.6,775.3L1332.3,767.5L1342.5,770.0L1346.4,774.1L1352.4,773.5L1358.9,777.0L1365.5,777.0L1370.7,774.9L1380.4,775.1L1383.3,776.4L1388.8,774.8M1388.8,774.8L1389.0,765.6L1391.4,763.2L1398.5,762.4L1403.7,764.1L1408.7,774.0L1417.6,782.8L1421.8,782.8L1427.5,780.7L1426.5,783.8L1423.3,791.8L1418.6,792.5L1417.8,799.1L1416.8,801.2L1417.0,801.5M1416.8,801.2L1414.9,799.1L1410.2,802.5L1407.1,803.2L1400.6,809.4M1388.8,774.8L1380.4,775.1L1377.3,781.2L1380.9,787.1L1388.5,786.1L1382.2,787.1L1377.8,790.2L1374.6,790.6L1367.8,791.8L1367.6,796.4L1361.0,800.9L1349.8,803.7L1339.1,800.0L1327.3,799.8L1324.7,794.2L1312.9,791.0L1312.1,783.0L1304.8,777.1M1303.6,777.4L1299.5,779.9L1298.8,784.5L1292.2,784.0L1290.4,789.9L1284.1,791.9L1284.9,799.2L1284.9,801.8M1284.9,801.8L1276.2,805.5L1267.6,810.8L1268.1,813.8L1270.9,814.3L1271.0,818.5M1284.9,799.2L1282.3,799.2L1273.9,798.8L1269.2,797.8L1267.1,800.6L1260.8,800.9L1260.5,801.9L1258.7,803.3L1255.8,804.0L1254.8,806.4L1252.7,804.8L1249.6,804.8L1247.7,798.7L1248.0,798.4L1237.3,796.6L1228.4,789.3L1221.6,791.3L1221.6,804.2L1218.1,805.2M1221.6,804.2L1224.4,804.2L1224.2,802.1L1232.0,801.1L1232.3,803.9L1237.5,806.7L1243.0,812.4L1249.0,818.0L1252.4,818.6L1254.0,815.1L1252.2,810.2L1254.3,810.4L1256.4,806.1L1259.5,805.4L1262.6,808.3L1266.3,805.9L1260.8,800.9M1267.6,810.8L1262.9,811.3L1260.0,810.2L1256.4,808.8L1254.3,810.4M1252.4,818.6L1256.9,817.2L1260.8,814.4L1262.4,820.3L1266.8,817.6L1271.0,818.5M1216.1,817.9L1222.1,815.3L1225.0,815.7L1230.2,817.4L1235.2,820.6L1234.9,825.1L1233.3,829.2L1234.4,838.3L1236.7,840.5L1234.4,844.0L1236.7,848.3L1240.4,853.2L1240.4,855.1L1236.2,860.2M1249.0,818.0L1246.7,818.2L1243.8,821.6L1240.4,823.2L1238.0,825.1L1235.2,823.9M1234.4,844.0L1238.6,845.6L1248.5,843.9L1249.6,839.4L1256.4,837.0L1256.9,832.8L1259.0,831.9L1258.2,829.7L1261.1,828.5L1262.4,820.3M1271.0,818.5L1273.9,823.5L1278.6,824.6L1281.5,828.6L1281.2,831.5L1283.1,834.3L1281.0,838.5L1287.2,843.0M1253.5,865.4L1258.2,863.7L1261.1,863.0L1258.7,858.5L1256.9,854.3L1259.2,850.5L1263.4,850.5L1267.1,844.0L1270.0,840.1L1269.7,837.7L1272.3,835.6L1270.0,833.9L1268.7,832.5L1268.1,828.7L1269.2,827.3L1278.6,824.6M1287.2,843.0L1284.6,847.8L1289.3,851.0L1293.0,852.7L1297.4,855.2L1305.6,856.3L1305.6,851.1L1307.4,850.4L1300.1,851.0L1295.1,847.9L1290.4,843.4L1287.2,843.0M1307.4,850.4L1307.7,853.1L1310.0,855.2L1316.0,854.7L1315.0,851.4L1309.2,850.4L1307.4,850.4M1315.0,851.4L1318.9,848.5L1324.7,847.1L1326.6,845.8L1329.8,849.9L1329.8,851.2L1326.6,853.2L1323.9,857.7L1322.6,860.7L1321.3,865.2L1319.2,864.5L1319.3,868.1L1318.4,871.6L1317.3,871.8L1316.5,875.7M1308.2,872.2L1307.7,867.4L1305.6,862.9L1305.6,856.3M1310.0,855.2L1310.0,860.1L1316.8,861.2L1313.7,864.6L1313.7,866.4L1316.5,865.7L1317.3,871.8M1329.8,849.9L1333.3,852.6L1333.3,858.1L1330.3,862.3L1330.3,865.0L1333.8,867.5L1334.6,871.3L1337.0,873.6L1339.7,873.2M1339.7,873.2L1341.4,869.9L1342.3,870.3L1347.0,870.0L1350.7,867.0L1354.2,871.7L1357.6,873.5M1337.0,873.6L1337.0,877.4L1333.8,879.5L1330.9,883.4L1329.9,883.8L1333.8,891.1L1332.0,895.6L1334.6,900.5L1334.3,909.8L1333.0,913.3M1337.0,877.4L1338.3,880.3L1340.1,880.0L1339.3,887.3L1342.2,884.9L1345.6,884.2L1349.0,887.3L1349.1,890.8L1351.4,893.9L1350.3,898.5L1349.3,898.1L1344.6,898.6L1342.8,900.9L1344.3,907.5M1339.7,873.2L1341.4,874.5L1342.3,870.3M1342.3,870.3L1346.9,875.5L1348.7,880.0L1346.9,881.1L1350.3,883.5L1353.7,889.4L1356.3,895.4L1356.5,897.1L1356.1,905.4L1351.9,908.2L1352.1,910.4L1348.5,912.0M1356.5,897.1L1352.4,898.3L1350.3,898.5M1337.0,925.8L1339.6,928.4L1341.4,928.1L1342.2,926.5M1284.1,913.8L1285.1,914.9L1287.5,918.3L1289.3,922.5L1288.5,925.6L1285.9,927.4L1284.4,926.3L1283.6,919.7ZM1359.5,881.5L1361.6,878.7L1365.2,878.7L1365.5,880.1L1363.9,883.6L1361.8,885.0L1359.5,883.9ZM1391.7,861.5L1394.0,861.5L1393.0,866.7L1391.4,871.9L1389.3,868.4L1389.8,864.9ZM1415.7,831.7L1417.6,830.7L1419.7,833.1L1420.4,834.8L1418.9,839.4L1417.0,840.7L1415.7,839.7L1415.7,836.9L1414.4,833.8ZM1421.8,831.4L1425.4,829.3L1427.2,829.7L1426.2,832.8L1423.6,833.8L1421.8,833.8ZM1417.6,830.3L1421.0,829.3L1423.8,829.0L1427.0,827.9L1429.1,828.3L1428.6,830.7L1430.4,832.1L1433.3,829.3L1433.3,827.6L1436.7,828.3L1438.5,826.9L1440.6,826.2L1441.1,827.3L1443.7,824.5L1443.0,821.7L1444.0,816.5L1445.8,813.1L1446.6,811.0L1445.3,807.9L1444.8,804.7L1442.2,805.4L1441.1,809.6L1440.9,813.7L1437.7,817.2L1433.5,819.6L1433.0,820.7L1430.9,824.5L1429.1,825.2L1423.6,825.0L1420.4,827.2L1417.8,828.9ZM1441.4,804.4L1442.2,801.6L1444.5,798.5L1445.8,791.2L1446.9,790.9L1449.8,794.7L1455.3,795.1L1455.5,798.2L1451.8,799.6L1450.0,802.7L1446.1,800.9L1444.0,803.3ZM1446.4,788.8L1446.6,783.6L1446.9,776.6L1446.1,769.7L1447.1,762.7L1449.0,760.0L1450.0,766.2L1449.8,771.4L1453.4,778.7L1449.2,777.3L1450.3,786.0L1450.5,788.4L1448.2,786.4ZM1209.8,698.6L1212.4,696.5L1217.6,693.1L1220.2,690.7L1221.6,687.2L1226.8,684.8L1234.6,683.1L1245.1,681.0L1254.3,680.7L1247.7,683.8L1234.6,686.9L1226.8,691.0L1222.9,694.8L1225.5,702.5L1218.9,702.1L1215.0,700.7ZM1436.1,687.4L1444.0,684.6L1454.5,686.7L1464.9,687.1L1457.1,688.8L1441.4,689.1ZM1441.4,693.6L1450.5,694.4L1446.6,691.9ZM1324.9,673.4L1335.4,672.7L1348.5,674.2L1338.0,677.2L1331.5,674.4ZM1314.5,670.2L1323.6,666.1L1330.2,669.6L1319.7,672.0ZM1198.0,668.7L1211.1,666.7L1226.8,666.4L1237.3,667.5L1224.2,669.1L1208.5,670.1ZM1481.9,774.0L1483.8,772.3L1483.0,774.3ZM1467.5,788.9L1468.9,788.2L1466.2,790.2ZM1459.7,793.0L1464.4,790.6L1461.8,791.6ZM1455.8,796.4L1457.9,794.4L1455.8,795.1ZM1405.3,832.7L1407.1,832.0L1406.3,833.1ZM1417.8,951.1L1421.5,949.8L1425.7,951.5L1426.5,956.7L1428.3,959.9L1431.4,956.1L1435.6,953.7L1440.6,956.4L1444.0,957.5L1448.7,960.0L1453.2,961.7L1456.6,966.6L1460.0,969.4L1461.8,971.8L1460.2,974.2L1463.6,979.8L1467.0,983.3L1469.4,985.4L1464.9,984.3L1462.1,983.6L1458.4,979.4L1453.2,974.9L1450.5,977.3L1448.7,980.4L1444.0,980.1L1440.1,976.2L1436.1,977.6L1438.0,973.5L1437.5,970.3L1435.6,966.8L1430.4,964.0L1425.7,961.6L1422.5,962.3L1424.4,958.8L1420.4,956.0L1417.8,951.1ZM1444.0,957.5L1444.0,980.1M1463.6,968.0L1468.1,967.7L1471.7,965.6L1473.8,963.5L1472.8,966.6L1468.9,970.1L1465.5,970.1ZM1470.2,958.3L1474.9,962.1L1475.1,964.6L1472.8,960.7ZM1479.6,967.0L1482.7,971.5L1481.4,972.6ZM1324.4,928.6L1330.2,930.0L1336.7,937.6L1341.4,941.8L1345.9,948.1L1348.5,955.0L1352.4,958.5L1352.1,968.2L1348.7,968.2L1342.7,962.0L1339.1,955.7L1334.6,947.3L1330.9,940.0L1326.2,934.1ZM1350.3,971.7L1352.9,968.8L1358.4,971.0L1365.0,970.4L1369.7,972.1L1374.6,975.3L1374.4,978.1L1368.1,977.0L1360.3,975.0L1353.7,973.8ZM1360.3,942.9L1361.8,941.2L1366.3,943.0L1370.7,937.4L1377.3,930.8L1380.7,923.9L1382.8,926.0L1386.9,930.2L1383.8,933.3L1382.8,937.8L1385.9,944.8L1383.3,945.5L1382.5,951.0L1379.9,955.9L1378.6,961.8L1374.9,962.4L1370.7,959.3L1367.6,960.3L1363.4,958.2L1362.9,953.4L1360.8,949.9ZM1361.8,941.2L1364.2,945.0L1368.1,943.7L1372.8,943.3L1375.4,940.6L1376.2,932.9L1377.3,930.8M1373.3,932.2L1374.9,934.3L1376.0,931.5M1388.5,945.5L1391.1,943.8L1396.9,945.0L1401.9,942.4L1400.6,946.9L1396.9,946.6L1391.1,946.9L1389.3,951.4L1393.0,951.4L1397.4,951.8L1394.3,954.9L1396.4,963.6L1393.2,964.9L1391.7,957.6L1390.1,958.3L1390.1,967.7L1387.5,967.0L1387.7,960.4L1385.9,957.3L1388.5,945.5ZM1377.5,976.7L1380.4,977.4L1383.5,976.4L1386.4,977.8L1381.2,979.5L1378.3,978.8ZM1388.8,977.4L1393.0,977.8L1396.9,977.1L1396.4,978.8L1390.3,979.2ZM1386.4,981.6L1391.1,983.0L1389.6,984.0ZM1398.2,984.1L1400.6,980.9L1402.4,979.6L1408.1,977.5L1406.3,979.6L1402.1,983.0ZM1402.4,979.6L1401.9,981.6M1408.4,951.1L1410.0,943.1L1411.8,944.9L1409.7,947.6L1411.0,951.1ZM1404.7,959.4L1407.9,959.8L1407.6,961.5L1404.7,960.8ZM1410.0,958.4L1417.3,958.8L1416.3,961.2L1411.3,960.5ZM1390.6,884.0L1394.8,884.0L1394.8,892.0L1393.2,893.4L1393.2,897.9L1396.1,899.0L1399.8,903.2L1397.4,900.7L1394.3,900.4L1390.6,899.0L1389.0,894.4L1390.1,892.0ZM1394.0,924.3L1397.7,922.3L1400.0,919.8L1403.2,914.6L1405.8,919.9L1405.3,926.4L1403.2,925.4L1403.4,928.9L1399.5,926.8L1396.9,922.2ZM1381.7,919.1L1387.5,911.1L1388.3,912.1L1383.5,918.0ZM1400.3,904.9L1402.9,904.9L1404.0,909.8L1402.1,913.6L1401.6,908.7ZM1394.3,907.3L1397.2,908.4L1396.9,913.6L1394.8,912.2ZM1397.9,910.4L1399.5,912.5L1397.9,915.7ZM1504.2,1018.5L1509.4,1023.4L1512.0,1026.5L1506.8,1022.7ZM1539.0,1009.3L1542.7,1010.0L1540.3,1012.1ZM1542.9,1006.2L1545.8,1005.1L1544.2,1007.2ZM1511.0,1000.8L1512.6,1002.9L1511.0,1003.3ZM1492.7,976.4L1495.8,977.8L1493.7,978.5ZM1495.3,981.0L1497.4,982.7L1493.7,982.7ZM622.8,993.9L625.4,995.3L623.3,995.3ZM683.5,1007.8L684.8,1008.8L683.5,1009.1Z" fill="none" stroke="#cfd0d1" stroke-width="1.12" stroke-linejoin="round"/><defs><pattern id="hz1" width="40" height="5.2" patternUnits="userSpaceOnUse" patternTransform="rotate(-17)"><rect y="0" width="40" height="1.5" fill="#fff"/></pattern><pattern id="hz2" width="40" height="8.3" patternUnits="userSpaceOnUse" patternTransform="rotate(-4)"><rect y="2" width="40" height="1.3" fill="#f4f5ff"/></pattern></defs><path d="M752.3,776.9L826.0,776.9L826.0,775.5L826.9,775.8L827.4,777.9L831.6,778.3L835.5,780.0L840.8,780.3L844.7,779.6L853.1,784.2L853.9,785.6L856.2,786.9L856.5,788.0L859.1,789.7L860.1,795.6L859.4,797.7L859.1,799.1L857.5,800.5L857.5,801.2L859.1,802.2L863.0,800.5L868.3,798.4L868.3,796.7L867.7,796.0L869.0,795.6L874.0,795.6L875.1,793.9L877.9,791.5L879.5,790.8L887.9,790.8L888.1,790.1L889.7,789.4L891.0,787.6L891.3,786.2L891.8,784.9L893.9,782.3L894.7,783.1L896.3,782.6L897.6,783.5L897.6,788.3L898.6,789.7L899.7,791.1L899.7,791.5L897.0,792.8L894.4,794.2L891.8,795.3L890.2,797.4L889.7,798.7L889.5,800.1L890.5,801.9L891.8,801.2L891.9,802.2L890.2,802.9L888.7,802.9L886.8,803.6L884.2,803.8L882.1,805.0L886.1,804.3L886.8,804.6L881.6,806.0L881.3,806.7L881.1,808.8L879.0,811.8L877.4,809.9L878.5,812.3L878.6,813.5L877.2,816.5L876.2,818.2L875.3,815.1L874.8,810.9L875.6,814.0L875.3,818.5L876.1,818.9L876.5,820.1L877.4,823.7L877.4,824.8L874.8,826.9L872.4,827.2L871.1,829.3L868.5,830.0L867.5,832.1L865.9,833.5L863.5,835.5L862.8,836.9L862.0,840.4L862.2,843.2L863.3,846.3L864.2,848.4L864.9,851.5L865.6,854.0L865.4,857.4L864.6,859.5L862.8,859.9L861.2,857.1L860.4,855.0L858.6,851.5L858.3,849.1L858.6,846.7L856.7,843.9L855.2,842.5L854.1,843.2L851.8,843.9L850.5,842.1L848.6,841.5L846.0,841.8L844.7,841.8L842.3,841.5L841.0,842.1L840.5,843.2L841.6,845.3L841.0,846.3L839.2,846.0L837.1,846.0L835.3,844.2L832.9,844.2L829.5,843.9L827.2,844.9L825.9,846.3L823.2,848.0L821.2,849.8L820.1,852.2L820.6,856.7L820.1,857.2L820.1,857.2L818.0,856.4L815.7,855.3L814.6,851.5L812.5,848.7L811.2,845.6L809.6,843.5L807.3,843.2L806.2,843.9L804.9,846.3L801.5,844.2L800.5,840.8L796.6,836.8L791.8,836.7L791.8,838.2L784.3,838.2L774.6,834.2L774.8,833.5L768.5,834.2L768.5,834.2L768.0,832.4L766.2,830.0L764.9,829.0L763.1,828.4L759.7,827.4L759.4,825.1L757.6,823.0L756.0,819.9L755.7,818.7L754.4,816.8L754.4,815.8L753.1,815.1L751.3,811.9L751.0,808.8L749.7,807.1L750.2,804.6L750.0,801.9L749.2,798.4L750.2,795.3L750.5,791.5L750.6,786.6L750.2,784.9L748.7,780.7L748.7,779.0L753.1,779.6L754.4,782.8L754.7,779.3L753.6,776.9L752.3,776.9ZM706.0,705.3L700.8,703.6L692.9,703.3L685.1,702.2L677.2,700.8L670.7,700.5L665.4,699.3L661.5,701.2L655.0,702.6L651.0,702.9L648.4,705.7L643.2,707.8L639.3,709.7L643.2,710.9L645.8,712.3L647.1,714.4L651.0,714.7L652.4,716.8L647.1,716.1L643.2,716.5L635.3,719.2L639.3,720.6L640.6,723.1L648.4,723.1L653.7,722.0L653.7,724.8L651.0,726.5L645.8,728.3L641.9,730.0L640.6,733.5L643.2,735.9L645.8,738.7L649.7,739.0L651.0,741.5L651.6,743.5L656.3,742.8L660.2,742.8L662.8,743.5L662.8,747.4L660.2,749.8L656.3,752.2L655.8,754.0L660.2,752.6L665.4,749.1L669.4,746.3L672.0,743.9L673.8,741.1L675.9,738.7L677.2,735.9L679.8,734.5L682.5,734.5L681.1,736.9L677.7,741.1L682.5,740.4L685.1,738.7L687.7,736.9L690.3,735.2L692.9,735.9L695.5,737.6L698.2,738.7L703.4,739.0L707.3,739.7L712.5,741.8L715.2,743.2L717.8,744.9L720.4,748.4L723.0,751.9L726.9,755.0L730.1,756.7L734.3,756.7L734.8,752.9L730.9,750.5L728.2,747.7L725.6,743.9L721.7,740.4L717.8,740.4L715.2,742.2L711.2,738.3L706.0,737.6L706.0,705.3ZM706.0,705.3L711.2,705.7L717.8,707.8L721.7,705.7L726.9,705.7L732.2,704.3L737.4,704.0L741.3,702.6L747.9,705.7L749.4,703.6L757.0,704.7L768.8,707.8L774.0,707.8L776.7,709.9L774.0,711.6L787.1,711.3L792.4,712.6L792.4,709.2L797.6,707.8L808.1,711.6L817.2,711.6L818.5,709.2L823.8,710.2L825.1,705.7L822.5,704.0L823.8,699.4L827.7,697.0L831.6,700.5L834.2,704.0L835.5,705.7L838.2,709.5L844.7,708.1L844.7,712.6L849.9,712.6L851.2,708.1L852.6,704.7L860.4,704.7L862.2,706.7L861.7,710.9L859.1,716.1L855.2,716.8L849.9,717.8L849.9,723.1L844.7,724.8L839.5,725.5L836.9,726.5L832.9,730.0L829.0,735.2L827.2,739.4L827.7,742.8L831.6,743.9L832.9,749.1L839.5,749.1L844.7,750.8L852.6,755.0L859.6,755.7L859.9,761.2L861.7,765.8L864.3,768.9L866.9,768.2L868.8,764.7L868.3,759.5L866.9,757.1L872.2,754.3L874.8,750.8L874.0,747.4L869.6,743.2L872.2,738.7L870.9,735.2L872.2,730.0L878.7,731.0L882.7,731.7L886.6,733.5L887.9,735.2L891.8,735.2L893.1,738.7L893.1,742.2L897.0,743.9L902.3,742.8L904.9,739.4L906.2,737.3L908.8,742.2L912.7,747.4L914.1,752.6L918.0,755.3L923.2,757.1L925.0,759.5L929.0,763.0L929.2,766.5L925.8,768.2L921.9,768.9L918.0,772.4L912.7,772.5L907.5,772.4L901.0,772.7L898.4,775.5L894.4,778.6L891.8,782.1L889.2,784.2L891.8,783.1L895.7,779.0L899.7,776.9L904.9,776.0L906.7,777.2L904.9,780.3L901.5,780.3L904.9,783.8L905.4,786.2L907.5,787.3L910.1,788.0L913.0,787.6L915.4,789.0L917.2,783.8L918.5,787.3L915.4,790.1L910.1,791.8L906.2,794.2L903.6,796.0L901.8,794.9L902.3,792.5L906.2,789.7L904.9,790.1L902.3,790.1L899.7,791.1L898.6,789.7L897.6,788.3L897.6,783.5L896.3,782.6L894.7,783.1L893.9,782.3L891.8,784.9L891.3,786.2L891.0,787.6L889.7,789.4L888.1,790.1L887.9,790.8L879.5,790.8L877.9,791.5L875.1,793.9L874.0,795.6L869.0,795.6L867.7,796.0L868.3,796.7L868.3,798.4L863.0,800.5L859.1,802.2L857.5,801.2L857.5,800.5L859.1,799.1L859.4,797.7L860.1,795.6L859.1,789.7L856.5,788.0L856.2,786.9L853.9,785.6L853.1,784.2L844.7,779.6L840.8,780.3L835.5,780.0L831.6,778.3L827.4,777.9L826.9,775.8L826.0,775.5L826.0,776.9L752.3,776.9L752.8,775.8L749.2,773.4L745.3,770.6L741.3,768.2L740.0,764.7L737.4,761.2L734.0,758.1L734.3,756.7L734.8,752.9L730.9,750.5L728.2,747.7L725.6,743.9L721.7,740.4L717.8,740.4L715.2,742.2L711.2,738.3L706.0,737.6L706.0,705.3ZM919.8,781.7L922.2,776.9L924.5,771.7L927.1,768.5L929.8,767.8L929.0,771.7L926.6,774.1L929.8,774.1L933.7,775.1L935.8,777.9L936.3,780.3L937.1,782.1L935.8,784.9L933.7,784.2L930.3,784.2L928.4,782.1L923.2,781.7ZM906.7,785.2L910.1,785.7L912.7,785.7L911.2,787.3L908.0,786.6ZM906.5,774.1L912.7,775.5L913.3,776.5L908.8,775.8ZM747.9,697.0L751.8,700.1L761.0,698.8L767.5,694.6L772.7,692.5L767.5,689.4L757.0,688.3L749.2,689.0L750.5,691.8L746.6,694.2ZM767.5,704.0L776.7,709.5L789.7,708.5L800.2,708.8L808.9,706.7L810.9,703.6L804.1,701.9L800.2,697.7L801.5,693.9L793.7,692.5L791.1,696.0L785.8,693.9L776.7,692.2L766.2,694.9L763.1,698.4L771.4,699.1L779.3,702.2L767.2,701.9ZM815.9,699.4L821.7,695.3L819.8,690.8L813.3,690.1L807.3,693.5L809.4,697.0ZM825.1,696.7L834.2,697.0L838.9,693.5L838.2,689.7L827.7,689.7L824.3,692.5ZM815.9,708.1L821.2,708.8L824.3,707.4L821.7,704.7L817.0,705.7ZM847.3,724.8L851.2,728.3L857.8,729.0L863.0,726.5L864.9,724.8L861.7,723.1L855.2,717.8L849.9,718.5L848.6,722.0ZM859.6,729.3L865.6,730.3L866.9,732.1L863.0,731.7ZM864.9,731.7L867.2,730.7L865.9,733.1ZM834.2,687.6L844.7,688.3L860.4,688.3L866.4,686.9L864.3,684.2L849.9,684.5L842.1,684.5L834.2,681.4L825.1,680.4L822.5,683.8L831.6,685.6ZM768.8,685.6L776.7,687.6L787.1,688.3L797.6,686.6L798.4,683.8L789.7,680.7L781.9,683.5L772.7,681.7L767.5,683.1ZM802.8,685.2L810.7,686.6L819.1,684.9L817.2,681.0L808.1,681.4ZM822.5,686.6L830.3,687.6L830.0,685.2L825.1,684.5ZM754.4,683.1L763.6,683.5L771.4,679.0L770.1,677.6L761.0,679.7L753.6,681.7ZM778.0,678.3L785.8,678.3L787.1,676.2L779.3,675.5ZM778.0,675.1L787.1,674.8L788.4,673.4L780.6,673.1ZM798.9,676.9L810.7,676.9L815.9,674.1L808.1,671.7L798.9,673.1ZM819.8,676.5L827.7,676.5L830.3,674.1L822.5,673.1ZM831.6,675.5L844.7,674.8L849.9,671.0L844.7,667.5L834.2,664.7L825.1,667.5L823.8,671.0ZM842.1,681.7L857.8,682.1L868.3,680.0L873.5,676.5L878.7,674.4L884.0,671.0L894.4,669.2L904.9,665.8L912.7,662.3L910.1,659.5L891.8,658.5L870.9,658.8L852.6,661.3L836.9,663.7L842.1,666.5L852.6,668.5L849.9,672.7L855.2,675.1L844.7,676.9L847.3,679.7ZM904.9,733.1L897.0,730.7L889.2,729.0L884.0,724.1L880.0,723.4L870.9,723.8L870.9,721.3L881.3,719.6L882.7,716.1L884.0,710.9L878.7,709.2L869.6,704.7L866.9,704.0L852.6,704.0L844.7,702.2L840.8,700.5L839.5,695.3L840.8,690.8L852.6,691.1L863.0,691.1L870.9,692.2L873.5,694.6L881.3,698.1L889.2,700.5L895.7,704.0L899.7,707.4L907.5,712.6L914.1,715.1L911.4,719.6L902.3,716.1L906.2,722.4L907.5,726.5L897.0,725.8L904.9,730.0ZM933.7,926.9L936.3,927.9L938.1,930.0L939.7,932.4L937.3,938.3L934.2,939.4L932.1,939.0L933.7,935.2L933.2,934.5L932.6,929.6ZM1060.1,773.1L1062.4,771.3L1064.0,769.2L1067.1,769.2L1067.9,767.8L1065.1,767.8L1061.7,767.5L1062.7,765.8L1064.3,764.7L1064.3,763.3L1062.7,763.7L1063.7,762.3L1063.0,761.6L1066.1,761.9L1067.1,761.6L1067.1,759.9L1067.4,758.8L1065.6,757.8L1066.9,756.4L1064.5,756.7L1062.2,757.3L1061.7,756.0L1062.7,754.3L1062.2,752.9L1060.1,755.0L1060.3,752.6L1060.6,750.8L1058.8,750.1L1060.1,748.4L1059.8,746.3L1061.4,744.6L1061.9,743.5L1066.1,743.5L1067.1,743.5L1066.4,744.9L1064.5,746.0L1064.0,747.4L1066.4,746.7L1069.8,746.7L1070.3,747.4L1069.5,748.7L1068.5,750.5L1067.7,751.5L1066.4,752.6L1068.5,752.6L1069.8,753.3L1070.8,754.3L1071.3,756.0L1071.9,757.4L1074.0,758.5L1074.7,759.2L1074.5,760.6L1075.3,760.9L1075.8,762.6L1075.5,763.3L1076.3,763.2L1078.4,763.3L1079.6,764.7L1079.2,766.1L1078.1,767.2L1077.4,767.9L1076.3,768.4L1078.7,768.7L1078.7,769.4L1077.6,770.3L1075.8,770.8L1072.9,770.8L1071.6,770.6L1069.8,771.3L1068.5,771.5L1067.1,771.0L1065.8,772.0L1065.6,772.7L1064.0,772.2L1061.9,773.4L1061.4,773.6ZM1059.3,759.3L1060.6,758.5L1060.6,757.1L1059.8,756.4L1058.8,755.3L1056.7,755.3L1055.9,756.0L1055.4,757.1L1053.5,757.8L1055.1,759.0L1056.4,758.5L1057.7,759.3ZM1058.5,748.7L1059.0,747.0L1057.5,747.4ZM1056.2,746.3L1058.8,744.2L1057.2,744.6L1055.9,747.7ZM1071.1,736.9L1072.4,737.6L1071.6,739.0ZM1066.4,741.8L1067.9,742.2L1066.9,742.8ZM1081.5,769.6L1083.4,770.7L1086.0,773.4L1087.6,772.9L1087.8,774.1L1090.2,775.0L1091.7,775.2L1092.5,776.2L1094.6,776.6L1096.5,777.0L1094.9,781.8L1093.3,782.2L1091.0,785.3L1091.0,786.7L1092.8,786.0L1093.3,787.7L1093.6,789.4L1092.3,790.5L1093.3,791.9L1093.1,792.9L1095.2,794.0L1094.6,795.0L1093.1,796.4L1091.2,797.4L1088.9,796.7L1086.0,796.2L1083.6,796.9L1082.9,798.4L1083.1,799.6L1079.7,799.8L1076.8,798.4L1073.7,798.4L1071.3,797.4L1070.3,796.3L1071.3,794.9L1071.6,792.1L1072.1,789.0L1071.9,786.9L1070.0,784.9L1069.2,783.1L1067.7,782.1L1066.1,781.4L1063.7,781.0L1062.7,780.0L1062.4,779.0L1064.8,777.9L1067.1,777.6L1069.8,778.1L1071.1,778.1L1070.8,776.2L1070.0,774.4L1071.6,774.4L1072.1,775.7L1074.5,775.8L1075.3,775.1L1076.8,773.8L1078.9,773.1L1079.2,771.7L1079.2,770.3ZM1099.6,797.8L1099.9,799.2L1100.0,800.9L1099.1,803.5L1098.0,802.7L1097.5,801.3L1097.5,799.9L1098.6,798.8ZM1070.3,796.3L1071.3,797.4L1073.7,798.4L1076.8,798.4L1079.7,799.8L1083.1,799.6L1083.6,800.2L1083.4,801.6L1080.8,803.3L1077.6,804.5L1077.4,805.7L1075.0,808.5L1074.2,810.2L1075.5,812.5L1073.7,814.0L1073.2,816.3L1070.8,817.1L1069.2,819.4L1067.1,819.4L1063.5,819.6L1061.1,821.5L1060.3,822.0L1059.0,821.0L1058.3,819.2L1056.7,817.8L1055.6,817.8L1055.4,816.5L1056.7,815.1L1055.9,813.3L1056.7,811.6L1055.4,809.3L1056.7,809.2L1056.9,807.1L1057.2,804.6L1058.8,802.6L1057.7,801.3L1053.8,801.7L1051.7,801.5L1051.7,799.8L1050.7,797.7L1053.0,796.3L1054.8,795.1L1059.3,795.6L1063.2,796.3L1065.1,796.0L1067.1,796.3ZM1094.6,795.0L1095.2,794.0L1093.1,792.9L1093.3,791.9L1092.3,790.5L1093.6,789.4L1093.3,787.7L1095.7,787.7L1097.0,786.0L1098.6,788.1L1099.3,786.0L1101.4,786.7L1102.5,784.4L1106.7,783.9L1107.5,785.0L1110.9,785.7L1110.1,786.7L1110.6,788.1L1111.1,788.8L1109.3,788.5L1107.5,789.5L1107.7,791.2L1107.5,793.7L1110.6,796.1L1111.6,798.9L1114.3,801.5L1117.4,801.7L1116.6,803.1L1119.5,804.8L1122.1,806.2L1123.4,808.0L1123.0,809.0L1121.8,807.3L1120.0,806.7L1118.4,807.9L1118.2,809.3L1119.8,810.4L1119.8,812.1L1118.2,813.8L1117.1,815.4L1116.0,815.2L1116.3,813.1L1117.4,811.8L1117.1,810.7L1116.1,808.3L1115.0,808.1L1114.0,807.2L1113.7,806.0L1112.4,806.2L1112.2,805.3L1110.9,803.9L1109.0,803.9L1106.9,802.2L1105.9,801.0L1104.0,799.9L1102.5,798.0L1102.0,796.1L1101.4,794.3L1098.3,792.9L1096.5,794.3ZM1107.5,815.9L1107.7,815.2L1109.8,814.5L1112.9,815.0L1115.8,814.2L1114.5,817.0L1115.0,818.7L1114.5,819.9L1112.7,819.4L1110.3,817.6L1108.0,816.8ZM1099.1,803.9L1100.4,805.1L1100.6,806.5L1100.1,808.6L1100.0,811.2L1098.8,811.0L1098.3,812.0L1097.0,811.3L1097.0,808.6L1097.1,807.2L1096.3,806.1L1096.5,804.9L1098.0,804.7ZM1118.0,1046.5L1119.2,1048.9L1120.3,1053.1L1121.8,1057.6L1122.9,1060.4L1121.8,1061.8L1123.2,1064.9L1123.4,1066.5L1124.5,1066.6L1126.3,1067.9L1127.3,1068.0L1130.0,1066.7L1132.6,1065.8L1136.2,1065.6L1139.9,1066.0L1142.0,1065.5L1144.4,1064.5L1148.0,1061.9L1150.6,1059.4L1153.0,1056.0L1155.1,1052.9L1156.1,1050.8L1157.4,1048.0L1159.5,1046.6L1160.3,1042.8L1161.1,1040.6L1158.7,1037.6L1158.6,1032.1L1157.6,1028.9L1156.9,1025.1L1154.3,1024.7L1151.9,1024.4L1149.1,1026.3L1145.7,1029.4L1145.3,1031.7L1142.8,1033.2L1142.0,1036.2L1139.6,1036.8L1135.2,1035.1L1131.8,1040.5L1129.2,1040.4L1127.3,1033.3L1127.3,1045.8L1124.7,1047.7L1122.1,1047.4L1120.5,1046.8ZM1211.1,863.9L1212.7,863.5L1216.1,863.9L1217.9,862.5L1220.0,859.6L1221.7,857.3L1222.3,858.7L1222.5,861.1L1221.6,861.5L1221.0,863.9L1220.2,865.6L1219.5,868.6L1218.9,868.9L1213.2,867.9ZM1447.9,985.6L1450.5,992.9L1451.3,998.5L1453.4,997.8L1455.3,1000.6L1455.8,1005.1L1457.3,1009.3L1457.9,1014.2L1461.3,1015.9L1464.4,1019.0L1466.5,1025.6L1469.6,1027.0L1469.9,1030.5L1472.8,1033.7L1475.4,1036.4L1475.7,1041.7L1477.0,1047.9L1475.7,1054.5L1474.1,1061.1L1471.0,1065.9L1469.6,1070.1L1467.8,1075.3L1467.3,1078.8L1462.3,1080.1L1458.1,1084.3L1454.7,1081.8L1453.7,1080.8L1450.5,1083.2L1446.6,1081.8L1443.0,1080.6L1440.9,1077.3L1440.1,1073.1L1436.4,1072.0L1437.5,1069.6L1436.1,1063.7L1435.6,1061.6L1434.6,1067.5L1433.5,1070.6L1430.9,1069.6L1429.1,1065.8L1426.2,1062.6L1424.4,1060.0L1418.1,1057.7L1412.6,1058.4L1405.0,1060.5L1399.5,1062.9L1398.5,1066.0L1391.7,1065.8L1387.5,1067.7L1383.8,1069.9L1378.6,1069.2L1376.0,1067.3L1376.2,1064.5L1377.8,1063.8L1377.8,1058.6L1376.0,1053.1L1374.9,1047.2L1372.3,1040.5L1371.5,1037.1L1373.9,1039.5L1372.0,1032.9L1372.6,1026.7L1373.6,1023.9L1377.3,1022.5L1380.7,1019.7L1385.9,1018.6L1391.7,1016.3L1394.8,1011.1L1394.8,1007.7L1398.2,1008.4L1399.0,1004.5L1402.6,1001.8L1404.5,998.0L1407.1,996.6L1410.5,999.7L1414.2,1000.1L1413.9,995.2L1416.8,991.4L1420.4,990.7L1420.2,987.6L1424.1,989.4L1428.8,990.8L1432.7,990.1L1433.3,991.5L1430.7,994.6L1429.6,1000.2L1432.5,1003.6L1435.4,1005.4L1439.5,1009.2L1443.5,1009.2L1445.0,1004.4L1445.6,997.1L1445.6,992.2L1446.6,987.4ZM1453.7,1089.8L1458.4,1091.2L1462.3,1090.2L1463.1,1094.7L1462.1,1098.5L1459.2,1099.9L1456.8,1098.9L1455.0,1095.0ZM1432.5,1072.0L1435.1,1072.0L1436.4,1073.1L1434.1,1073.4ZM1415.5,989.0L1417.6,987.6L1419.1,988.3L1416.8,989.5ZM1432.0,996.7L1433.3,996.3L1432.7,998.1ZM1527.0,1068.2L1528.0,1071.0L1531.1,1071.4L1532.5,1074.9L1534.5,1075.9L1535.3,1079.0L1538.2,1080.4L1540.8,1079.4L1542.1,1079.8L1540.6,1084.6L1538.2,1086.0L1537.9,1088.8L1533.8,1093.3L1532.2,1092.2L1533.2,1088.4L1529.8,1085.3L1531.9,1082.8L1532.2,1078.7L1530.9,1075.6L1528.0,1071.4ZM1527.0,1089.4L1528.0,1091.9L1530.9,1091.2L1531.1,1094.0L1528.5,1098.1L1527.0,1100.9L1523.3,1102.6L1522.2,1107.1L1519.6,1110.2L1515.7,1110.6L1511.3,1109.2L1510.7,1107.4L1513.6,1104.0L1516.5,1101.2L1520.9,1098.1L1523.6,1093.9L1525.4,1090.8ZM1513.6,1111.2L1515.2,1111.6L1514.7,1112.6Z" fill="#1f2be5" stroke="#c3c6f5" stroke-width=".9" stroke-linejoin="round"/><path d="M825.1,696.7L834.2,697.0L838.9,693.5L838.2,689.7L827.7,689.7L824.3,692.5ZM847.3,724.8L851.2,728.3L857.8,729.0L863.0,726.5L864.9,724.8L861.7,723.1L855.2,717.8L849.9,718.5L848.6,722.0ZM859.6,729.3L865.6,730.3L866.9,732.1L863.0,731.7ZM864.9,731.7L867.2,730.7L865.9,733.1ZM834.2,687.6L844.7,688.3L860.4,688.3L866.4,686.9L864.3,684.2L849.9,684.5L842.1,684.5L834.2,681.4L825.1,680.4L822.5,683.8L831.6,685.6ZM768.8,685.6L776.7,687.6L787.1,688.3L797.6,686.6L798.4,683.8L789.7,680.7L781.9,683.5L772.7,681.7L767.5,683.1ZM802.8,685.2L810.7,686.6L819.1,684.9L817.2,681.0L808.1,681.4ZM822.5,686.6L830.3,687.6L830.0,685.2L825.1,684.5ZM754.4,683.1L763.6,683.5L771.4,679.0L770.1,677.6L761.0,679.7L753.6,681.7ZM778.0,678.3L785.8,678.3L787.1,676.2L779.3,675.5ZM778.0,675.1L787.1,674.8L788.4,673.4L780.6,673.1ZM798.9,676.9L810.7,676.9L815.9,674.1L808.1,671.7L798.9,673.1ZM819.8,676.5L827.7,676.5L830.3,674.1L822.5,673.1ZM831.6,675.5L844.7,674.8L849.9,671.0L844.7,667.5L834.2,664.7L825.1,667.5L823.8,671.0ZM842.1,681.7L857.8,682.1L868.3,680.0L873.5,676.5L878.7,674.4L884.0,671.0L894.4,669.2L904.9,665.8L912.7,662.3L910.1,659.5L891.8,658.5L870.9,658.8L852.6,661.3L836.9,663.7L842.1,666.5L852.6,668.5L849.9,672.7L855.2,675.1L844.7,676.9L847.3,679.7ZM904.9,733.1L897.0,730.7L889.2,729.0L884.0,724.1L880.0,723.4L870.9,723.8L870.9,721.3L881.3,719.6L882.7,716.1L884.0,710.9L878.7,709.2L869.6,704.7L866.9,704.0L852.6,704.0L844.7,702.2L840.8,700.5L839.5,695.3L840.8,690.8L852.6,691.1L863.0,691.1L870.9,692.2L873.5,694.6L881.3,698.1L889.2,700.5L895.7,704.0L899.7,707.4L907.5,712.6L914.1,715.1L911.4,719.6L902.3,716.1L906.2,722.4L907.5,726.5L897.0,725.8L904.9,730.0Z" fill="url(#hz1)" stroke="#e6e8fb" stroke-width="1.1"/><path d="M825.1,696.7L834.2,697.0L838.9,693.5L838.2,689.7L827.7,689.7L824.3,692.5ZM847.3,724.8L851.2,728.3L857.8,729.0L863.0,726.5L864.9,724.8L861.7,723.1L855.2,717.8L849.9,718.5L848.6,722.0ZM859.6,729.3L865.6,730.3L866.9,732.1L863.0,731.7ZM864.9,731.7L867.2,730.7L865.9,733.1ZM834.2,687.6L844.7,688.3L860.4,688.3L866.4,686.9L864.3,684.2L849.9,684.5L842.1,684.5L834.2,681.4L825.1,680.4L822.5,683.8L831.6,685.6ZM768.8,685.6L776.7,687.6L787.1,688.3L797.6,686.6L798.4,683.8L789.7,680.7L781.9,683.5L772.7,681.7L767.5,683.1ZM802.8,685.2L810.7,686.6L819.1,684.9L817.2,681.0L808.1,681.4ZM822.5,686.6L830.3,687.6L830.0,685.2L825.1,684.5ZM754.4,683.1L763.6,683.5L771.4,679.0L770.1,677.6L761.0,679.7L753.6,681.7ZM778.0,678.3L785.8,678.3L787.1,676.2L779.3,675.5ZM778.0,675.1L787.1,674.8L788.4,673.4L780.6,673.1ZM798.9,676.9L810.7,676.9L815.9,674.1L808.1,671.7L798.9,673.1ZM819.8,676.5L827.7,676.5L830.3,674.1L822.5,673.1ZM831.6,675.5L844.7,674.8L849.9,671.0L844.7,667.5L834.2,664.7L825.1,667.5L823.8,671.0ZM842.1,681.7L857.8,682.1L868.3,680.0L873.5,676.5L878.7,674.4L884.0,671.0L894.4,669.2L904.9,665.8L912.7,662.3L910.1,659.5L891.8,658.5L870.9,658.8L852.6,661.3L836.9,663.7L842.1,666.5L852.6,668.5L849.9,672.7L855.2,675.1L844.7,676.9L847.3,679.7ZM904.9,733.1L897.0,730.7L889.2,729.0L884.0,724.1L880.0,723.4L870.9,723.8L870.9,721.3L881.3,719.6L882.7,716.1L884.0,710.9L878.7,709.2L869.6,704.7L866.9,704.0L852.6,704.0L844.7,702.2L840.8,700.5L839.5,695.3L840.8,690.8L852.6,691.1L863.0,691.1L870.9,692.2L873.5,694.6L881.3,698.1L889.2,700.5L895.7,704.0L899.7,707.4L907.5,712.6L914.1,715.1L911.4,719.6L902.3,716.1L906.2,722.4L907.5,726.5L897.0,725.8L904.9,730.0ZM747.9,697.0L751.8,700.1L761.0,698.8L767.5,694.6L772.7,692.5L767.5,689.4L757.0,688.3L749.2,689.0L750.5,691.8L746.6,694.2ZM767.5,704.0L776.7,709.5L789.7,708.5L800.2,708.8L808.9,706.7L810.9,703.6L804.1,701.9L800.2,697.7L801.5,693.9L793.7,692.5L791.1,696.0L785.8,693.9L776.7,692.2L766.2,694.9L763.1,698.4L771.4,699.1L779.3,702.2L767.2,701.9ZM815.9,699.4L821.7,695.3L819.8,690.8L813.3,690.1L807.3,693.5L809.4,697.0ZM815.9,708.1L821.2,708.8L824.3,707.4L821.7,704.7L817.0,705.7Z" fill="url(#hz2)"/><path d="M1159.0,1040.6L1158.6,1037.4L1157.2,1036.7L1156.1,1037.2L1155.6,1040.4L1156.9,1042.1L1158.6,1042.1ZM1150.0,1046.6L1152.1,1049.2L1151.2,1051.1L1149.2,1052.0L1147.6,1053.5L1145.7,1050.2L1147.6,1047.6Z" fill="#fff" stroke="#b9bdf3" stroke-width=".6"/></svg>
<div class="card" style="left:1652px;top:593.5px;width:368px;height:273px;border-radius:14px"></div>
<div class="t ct" style="left:1678.6px;top:616.98px;font-size:24px;letter-spacing:-.2px">Technology</div>
<svg class="abs" style="left:0;top:0" width="2048" height="1319" viewBox="0 0 2048 1319" fill="none" stroke-width="12.8"><path d="M1902.40,668.10A61.5,61.5 0 1 1 1861.73,775.73" stroke="#8cff00"/><path d="M1861.73,775.73A61.5,61.5 0 0 1 1895.84,668.45" stroke="#2f32d6"/><path d="M1895.84,668.45A61.5,61.5 0 0 1 1902.40,668.10" stroke="#1e90ff"/></svg>
<div class="abs" style="left:1678px;top:688.3px;width:33px;height:18.700px;border-radius:4.500px;background:#8cff00;border:1.500px solid #86f500"></div>
<div class="t lg" style="left:1718.2px;top:688.46px;font-size:18px;letter-spacing:.12px">Mobile 61,5%</div>
<div class="abs" style="left:1678px;top:720.3px;width:33px;height:18.700px;border-radius:4.500px;background:#2f32d6;border:1.500px solid #2a2cb4"></div>
<div class="t lg" style="left:1718.2px;top:720.41px;font-size:18px;letter-spacing:.12px">Desktop 36,8%</div>
<div class="abs" style="left:1678px;top:752.3px;width:33px;height:18.700px;border-radius:4.500px;background:#1e90ff;border:1.500px solid #1e88ee"></div>
<div class="t lg" style="left:1718.2px;top:752.36px;font-size:18px;letter-spacing:.12px">Tablet 1,7%</div>
<div class="card" style="left:1652px;top:925.2px;width:368px;height:273px;border-radius:14px"></div>
<div class="t ct" style="left:1678.6px;top:948.68px;font-size:24px;letter-spacing:-.2px">Media</div>
<svg class="abs" style="left:0;top:0" width="2048" height="1319" viewBox="0 0 2048 1319" fill="none" stroke-width="12.8"><path d="M1902.40,999.80A61.5,61.5 0 1 1 1900.85,1122.78" stroke="#8cff00"/><path d="M1900.85,1122.78A61.5,61.5 0 0 1 1900.47,999.83" stroke="#2f32d6"/><path d="M1900.47,999.83A61.5,61.5 0 0 1 1902.40,999.80" stroke="#1e90ff"/></svg>
<div class="abs" style="left:1678px;top:1020.0px;width:33px;height:18.700px;border-radius:4.500px;background:#8cff00;border:1.500px solid #86f500"></div>
<div class="t lg" style="left:1718.2px;top:1020.16px;font-size:18px;letter-spacing:.12px">Pop-under Ad 50,4%</div>
<div class="abs" style="left:1678px;top:1052.0px;width:33px;height:18.700px;border-radius:4.500px;background:#2f32d6;border:1.500px solid #2a2cb4"></div>
<div class="t lg" style="left:1718.2px;top:1052.11px;font-size:18px;letter-spacing:.12px">Display Ad 49,1%</div>
<div class="abs" style="left:1678px;top:1084.0px;width:33px;height:18.700px;border-radius:4.500px;background:#1e90ff;border:1.500px solid #1e88ee"></div>
<div class="t lg" style="left:1718.2px;top:1084.06px;font-size:18px;letter-spacing:.12px">Push Notification 0,5%</div>
</div>
</div>
</body></html>
